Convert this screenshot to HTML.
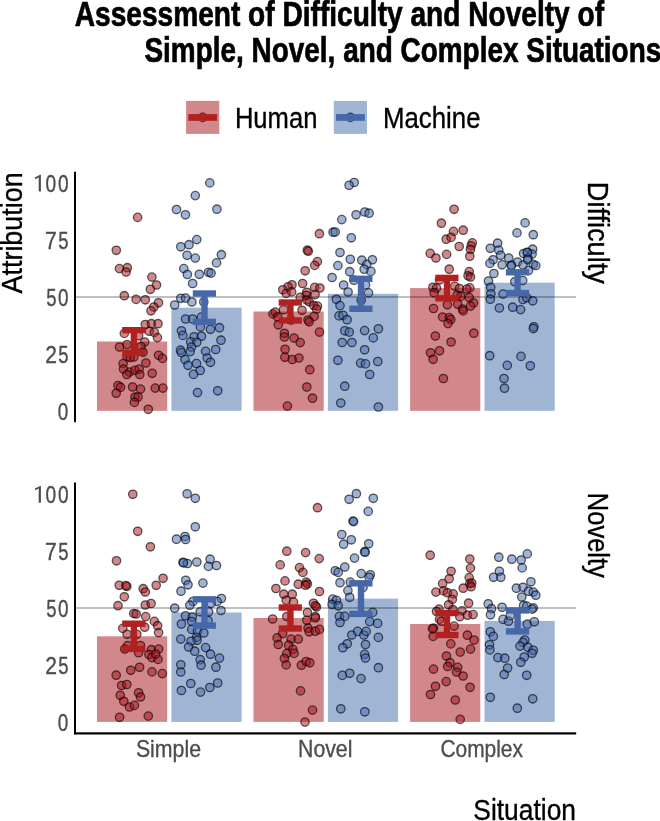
<!DOCTYPE html><html><head><meta charset="utf-8"><style>html,body{margin:0;padding:0;background:#fff;overflow:hidden;}svg{display:block;will-change:transform;}text{font-family:"Liberation Sans",sans-serif;}</style></head><body>
<svg width="660" height="821" viewBox="0 0 660 821">
<rect x="0" y="0" width="660" height="821" fill="#fff"/>
<text id="title1" x="74.73" y="25.50" font-size="34.6" fill="#000" textLength="529.32" lengthAdjust="spacingAndGlyphs" font-weight="bold" stroke="#000" stroke-width="0.7">Assessment of Difficulty and Novelty of</text>
<text id="title2" x="144.44" y="61.50" font-size="34.6" fill="#000" textLength="516.85" lengthAdjust="spacingAndGlyphs" font-weight="bold" stroke="#000" stroke-width="0.7">Simple, Novel, and Complex Situations</text>
<rect x="186.1" y="100.9" width="33.2" height="33" fill="#d2878b"/>
<circle cx="202.7" cy="117.4" r="4.2" fill="none" stroke="rgba(0,0,0,0.62)" stroke-width="1.4"/>
<rect x="188.29999999999998" y="114.1" width="28.8" height="6.7" fill="#b22020"/>
<text id="human" x="234.90" y="128.30" font-size="29.5" fill="#000" textLength="82.51" lengthAdjust="spacingAndGlyphs" stroke="#000" stroke-width="0.35">Human</text>
<rect x="333.8" y="100.9" width="33.2" height="33" fill="#a0b4d4"/>
<circle cx="350.40000000000003" cy="117.4" r="4.2" fill="none" stroke="rgba(0,0,0,0.62)" stroke-width="1.4"/>
<rect x="336.0" y="114.1" width="28.8" height="6.7" fill="#4668a8"/>
<text id="machine" x="383.02" y="128.10" font-size="29.5" fill="#000" textLength="97.47" lengthAdjust="spacingAndGlyphs" stroke="#000" stroke-width="0.35">Machine</text>
<rect x="97.0" y="341.5" width="70.2" height="69.3" fill="#d2878b"/>
<rect x="171.4" y="307.7" width="70.2" height="103.1" fill="#a0b4d4"/>
<rect x="253.5" y="311.5" width="70.2" height="99.3" fill="#d2878b"/>
<rect x="327.9" y="293.8" width="70.2" height="117.0" fill="#a0b4d4"/>
<rect x="410.1" y="288.1" width="70.2" height="122.7" fill="#d2878b"/>
<rect x="484.5" y="282.7" width="70.2" height="128.1" fill="#a0b4d4"/>
<circle cx="137.6" cy="217.4" r="4.2" fill="rgba(165,15,21,0.5)" stroke="rgba(0,0,0,0.62)" stroke-width="1.3"/>
<circle cx="116.3" cy="250.3" r="4.2" fill="rgba(165,15,21,0.5)" stroke="rgba(0,0,0,0.62)" stroke-width="1.3"/>
<circle cx="119.4" cy="268.6" r="4.2" fill="rgba(165,15,21,0.5)" stroke="rgba(0,0,0,0.62)" stroke-width="1.3"/>
<circle cx="127.3" cy="267.7" r="4.2" fill="rgba(165,15,21,0.5)" stroke="rgba(0,0,0,0.62)" stroke-width="1.3"/>
<circle cx="126.1" cy="272" r="4.2" fill="rgba(165,15,21,0.5)" stroke="rgba(0,0,0,0.62)" stroke-width="1.3"/>
<circle cx="151.9" cy="277.1" r="4.2" fill="rgba(165,15,21,0.5)" stroke="rgba(0,0,0,0.62)" stroke-width="1.3"/>
<circle cx="156.5" cy="285" r="4.2" fill="rgba(165,15,21,0.5)" stroke="rgba(0,0,0,0.62)" stroke-width="1.3"/>
<circle cx="150.4" cy="289.3" r="4.2" fill="rgba(165,15,21,0.5)" stroke="rgba(0,0,0,0.62)" stroke-width="1.3"/>
<circle cx="124.3" cy="295.7" r="4.2" fill="rgba(165,15,21,0.5)" stroke="rgba(0,0,0,0.62)" stroke-width="1.3"/>
<circle cx="136.1" cy="299.4" r="4.2" fill="rgba(165,15,21,0.5)" stroke="rgba(0,0,0,0.62)" stroke-width="1.3"/>
<circle cx="145.3" cy="299.8" r="4.2" fill="rgba(165,15,21,0.5)" stroke="rgba(0,0,0,0.62)" stroke-width="1.3"/>
<circle cx="158.5" cy="302.8" r="4.2" fill="rgba(165,15,21,0.5)" stroke="rgba(0,0,0,0.62)" stroke-width="1.3"/>
<circle cx="153.8" cy="307" r="4.2" fill="rgba(165,15,21,0.5)" stroke="rgba(0,0,0,0.62)" stroke-width="1.3"/>
<circle cx="151" cy="310.8" r="4.2" fill="rgba(165,15,21,0.5)" stroke="rgba(0,0,0,0.62)" stroke-width="1.3"/>
<circle cx="145.3" cy="324.5" r="4.2" fill="rgba(165,15,21,0.5)" stroke="rgba(0,0,0,0.62)" stroke-width="1.3"/>
<circle cx="151.4" cy="323.7" r="4.2" fill="rgba(165,15,21,0.5)" stroke="rgba(0,0,0,0.62)" stroke-width="1.3"/>
<circle cx="158" cy="323.7" r="4.2" fill="rgba(165,15,21,0.5)" stroke="rgba(0,0,0,0.62)" stroke-width="1.3"/>
<circle cx="149.3" cy="331.2" r="4.2" fill="rgba(165,15,21,0.5)" stroke="rgba(0,0,0,0.62)" stroke-width="1.3"/>
<circle cx="154.4" cy="332.4" r="4.2" fill="rgba(165,15,21,0.5)" stroke="rgba(0,0,0,0.62)" stroke-width="1.3"/>
<circle cx="157.4" cy="337.6" r="4.2" fill="rgba(165,15,21,0.5)" stroke="rgba(0,0,0,0.62)" stroke-width="1.3"/>
<circle cx="124.3" cy="333.4" r="4.2" fill="rgba(165,15,21,0.5)" stroke="rgba(0,0,0,0.62)" stroke-width="1.3"/>
<circle cx="138.6" cy="335.8" r="4.2" fill="rgba(165,15,21,0.5)" stroke="rgba(0,0,0,0.62)" stroke-width="1.3"/>
<circle cx="144.7" cy="342" r="4.2" fill="rgba(165,15,21,0.5)" stroke="rgba(0,0,0,0.62)" stroke-width="1.3"/>
<circle cx="119.5" cy="347" r="4.2" fill="rgba(165,15,21,0.5)" stroke="rgba(0,0,0,0.62)" stroke-width="1.3"/>
<circle cx="127.1" cy="344.6" r="4.2" fill="rgba(165,15,21,0.5)" stroke="rgba(0,0,0,0.62)" stroke-width="1.3"/>
<circle cx="141" cy="346.5" r="4.2" fill="rgba(165,15,21,0.5)" stroke="rgba(0,0,0,0.62)" stroke-width="1.3"/>
<circle cx="143" cy="352.2" r="4.2" fill="rgba(165,15,21,0.5)" stroke="rgba(0,0,0,0.62)" stroke-width="1.3"/>
<circle cx="158.6" cy="355.3" r="4.2" fill="rgba(165,15,21,0.5)" stroke="rgba(0,0,0,0.62)" stroke-width="1.3"/>
<circle cx="162.5" cy="358.4" r="4.2" fill="rgba(165,15,21,0.5)" stroke="rgba(0,0,0,0.62)" stroke-width="1.3"/>
<circle cx="127.1" cy="357" r="4.2" fill="rgba(165,15,21,0.5)" stroke="rgba(0,0,0,0.62)" stroke-width="1.3"/>
<circle cx="133.8" cy="357" r="4.2" fill="rgba(165,15,21,0.5)" stroke="rgba(0,0,0,0.62)" stroke-width="1.3"/>
<circle cx="130.2" cy="357.6" r="4.2" fill="rgba(165,15,21,0.5)" stroke="rgba(0,0,0,0.62)" stroke-width="1.3"/>
<circle cx="123.1" cy="363.6" r="4.2" fill="rgba(165,15,21,0.5)" stroke="rgba(0,0,0,0.62)" stroke-width="1.3"/>
<circle cx="145.9" cy="363" r="4.2" fill="rgba(165,15,21,0.5)" stroke="rgba(0,0,0,0.62)" stroke-width="1.3"/>
<circle cx="123.5" cy="369.1" r="4.2" fill="rgba(165,15,21,0.5)" stroke="rgba(0,0,0,0.62)" stroke-width="1.3"/>
<circle cx="129.5" cy="372.1" r="4.2" fill="rgba(165,15,21,0.5)" stroke="rgba(0,0,0,0.62)" stroke-width="1.3"/>
<circle cx="135" cy="370.3" r="4.2" fill="rgba(165,15,21,0.5)" stroke="rgba(0,0,0,0.62)" stroke-width="1.3"/>
<circle cx="139.2" cy="369.1" r="4.2" fill="rgba(165,15,21,0.5)" stroke="rgba(0,0,0,0.62)" stroke-width="1.3"/>
<circle cx="139.8" cy="374.5" r="4.2" fill="rgba(165,15,21,0.5)" stroke="rgba(0,0,0,0.62)" stroke-width="1.3"/>
<circle cx="126.8" cy="374.5" r="4.2" fill="rgba(165,15,21,0.5)" stroke="rgba(0,0,0,0.62)" stroke-width="1.3"/>
<circle cx="152.2" cy="373.3" r="4.2" fill="rgba(165,15,21,0.5)" stroke="rgba(0,0,0,0.62)" stroke-width="1.3"/>
<circle cx="118" cy="385.5" r="4.2" fill="rgba(165,15,21,0.5)" stroke="rgba(0,0,0,0.62)" stroke-width="1.3"/>
<circle cx="120.5" cy="387.3" r="4.2" fill="rgba(165,15,21,0.5)" stroke="rgba(0,0,0,0.62)" stroke-width="1.3"/>
<circle cx="116.2" cy="393.3" r="4.2" fill="rgba(165,15,21,0.5)" stroke="rgba(0,0,0,0.62)" stroke-width="1.3"/>
<circle cx="132.6" cy="387" r="4.2" fill="rgba(165,15,21,0.5)" stroke="rgba(0,0,0,0.62)" stroke-width="1.3"/>
<circle cx="140.5" cy="389.1" r="4.2" fill="rgba(165,15,21,0.5)" stroke="rgba(0,0,0,0.62)" stroke-width="1.3"/>
<circle cx="155.2" cy="388.1" r="4.2" fill="rgba(165,15,21,0.5)" stroke="rgba(0,0,0,0.62)" stroke-width="1.3"/>
<circle cx="162.9" cy="388.1" r="4.2" fill="rgba(165,15,21,0.5)" stroke="rgba(0,0,0,0.62)" stroke-width="1.3"/>
<circle cx="135" cy="397" r="4.2" fill="rgba(165,15,21,0.5)" stroke="rgba(0,0,0,0.62)" stroke-width="1.3"/>
<circle cx="138" cy="397" r="4.2" fill="rgba(165,15,21,0.5)" stroke="rgba(0,0,0,0.62)" stroke-width="1.3"/>
<circle cx="134.4" cy="402.4" r="4.2" fill="rgba(165,15,21,0.5)" stroke="rgba(0,0,0,0.62)" stroke-width="1.3"/>
<circle cx="148.3" cy="409.3" r="4.2" fill="rgba(165,15,21,0.5)" stroke="rgba(0,0,0,0.62)" stroke-width="1.3"/>
<circle cx="209.8" cy="182.9" r="4.2" fill="rgba(65,105,176,0.5)" stroke="rgba(0,0,0,0.62)" stroke-width="1.3"/>
<circle cx="195.3" cy="195.6" r="4.2" fill="rgba(65,105,176,0.5)" stroke="rgba(0,0,0,0.62)" stroke-width="1.3"/>
<circle cx="176.5" cy="209.5" r="4.2" fill="rgba(65,105,176,0.5)" stroke="rgba(0,0,0,0.62)" stroke-width="1.3"/>
<circle cx="185.4" cy="214.8" r="4.2" fill="rgba(65,105,176,0.5)" stroke="rgba(0,0,0,0.62)" stroke-width="1.3"/>
<circle cx="216.9" cy="209.2" r="4.2" fill="rgba(65,105,176,0.5)" stroke="rgba(0,0,0,0.62)" stroke-width="1.3"/>
<circle cx="196.8" cy="239.6" r="4.2" fill="rgba(65,105,176,0.5)" stroke="rgba(0,0,0,0.62)" stroke-width="1.3"/>
<circle cx="189" cy="244.7" r="4.2" fill="rgba(65,105,176,0.5)" stroke="rgba(0,0,0,0.62)" stroke-width="1.3"/>
<circle cx="180.8" cy="246.8" r="4.2" fill="rgba(65,105,176,0.5)" stroke="rgba(0,0,0,0.62)" stroke-width="1.3"/>
<circle cx="187.1" cy="255.3" r="4.2" fill="rgba(65,105,176,0.5)" stroke="rgba(0,0,0,0.62)" stroke-width="1.3"/>
<circle cx="195.3" cy="258.1" r="4.2" fill="rgba(65,105,176,0.5)" stroke="rgba(0,0,0,0.62)" stroke-width="1.3"/>
<circle cx="221.4" cy="254.7" r="4.2" fill="rgba(65,105,176,0.5)" stroke="rgba(0,0,0,0.62)" stroke-width="1.3"/>
<circle cx="216.5" cy="262.9" r="4.2" fill="rgba(65,105,176,0.5)" stroke="rgba(0,0,0,0.62)" stroke-width="1.3"/>
<circle cx="183.8" cy="268.6" r="4.2" fill="rgba(65,105,176,0.5)" stroke="rgba(0,0,0,0.62)" stroke-width="1.3"/>
<circle cx="187.4" cy="274.5" r="4.2" fill="rgba(65,105,176,0.5)" stroke="rgba(0,0,0,0.62)" stroke-width="1.3"/>
<circle cx="199.3" cy="274.3" r="4.2" fill="rgba(65,105,176,0.5)" stroke="rgba(0,0,0,0.62)" stroke-width="1.3"/>
<circle cx="208.6" cy="272.3" r="4.2" fill="rgba(65,105,176,0.5)" stroke="rgba(0,0,0,0.62)" stroke-width="1.3"/>
<circle cx="211.1" cy="273.1" r="4.2" fill="rgba(65,105,176,0.5)" stroke="rgba(0,0,0,0.62)" stroke-width="1.3"/>
<circle cx="192.6" cy="283.5" r="4.2" fill="rgba(65,105,176,0.5)" stroke="rgba(0,0,0,0.62)" stroke-width="1.3"/>
<circle cx="180.8" cy="298.3" r="4.2" fill="rgba(65,105,176,0.5)" stroke="rgba(0,0,0,0.62)" stroke-width="1.3"/>
<circle cx="185.6" cy="298.1" r="4.2" fill="rgba(65,105,176,0.5)" stroke="rgba(0,0,0,0.62)" stroke-width="1.3"/>
<circle cx="191.9" cy="302" r="4.2" fill="rgba(65,105,176,0.5)" stroke="rgba(0,0,0,0.62)" stroke-width="1.3"/>
<circle cx="174.7" cy="305" r="4.2" fill="rgba(65,105,176,0.5)" stroke="rgba(0,0,0,0.62)" stroke-width="1.3"/>
<circle cx="203.8" cy="302" r="4.2" fill="rgba(65,105,176,0.5)" stroke="rgba(0,0,0,0.62)" stroke-width="1.3"/>
<circle cx="185.6" cy="319" r="4.2" fill="rgba(65,105,176,0.5)" stroke="rgba(0,0,0,0.62)" stroke-width="1.3"/>
<circle cx="192.6" cy="319" r="4.2" fill="rgba(65,105,176,0.5)" stroke="rgba(0,0,0,0.62)" stroke-width="1.3"/>
<circle cx="201.4" cy="317.1" r="4.2" fill="rgba(65,105,176,0.5)" stroke="rgba(0,0,0,0.62)" stroke-width="1.3"/>
<circle cx="200.4" cy="326.9" r="4.2" fill="rgba(65,105,176,0.5)" stroke="rgba(0,0,0,0.62)" stroke-width="1.3"/>
<circle cx="210.5" cy="329.3" r="4.2" fill="rgba(65,105,176,0.5)" stroke="rgba(0,0,0,0.62)" stroke-width="1.3"/>
<circle cx="219.5" cy="327.7" r="4.2" fill="rgba(65,105,176,0.5)" stroke="rgba(0,0,0,0.62)" stroke-width="1.3"/>
<circle cx="181.4" cy="330.8" r="4.2" fill="rgba(65,105,176,0.5)" stroke="rgba(0,0,0,0.62)" stroke-width="1.3"/>
<circle cx="182.9" cy="335.4" r="4.2" fill="rgba(65,105,176,0.5)" stroke="rgba(0,0,0,0.62)" stroke-width="1.3"/>
<circle cx="194.1" cy="336.8" r="4.2" fill="rgba(65,105,176,0.5)" stroke="rgba(0,0,0,0.62)" stroke-width="1.3"/>
<circle cx="201.4" cy="336.2" r="4.2" fill="rgba(65,105,176,0.5)" stroke="rgba(0,0,0,0.62)" stroke-width="1.3"/>
<circle cx="190.7" cy="341.9" r="4.2" fill="rgba(65,105,176,0.5)" stroke="rgba(0,0,0,0.62)" stroke-width="1.3"/>
<circle cx="196.8" cy="342.3" r="4.2" fill="rgba(65,105,176,0.5)" stroke="rgba(0,0,0,0.62)" stroke-width="1.3"/>
<circle cx="221" cy="340.2" r="4.2" fill="rgba(65,105,176,0.5)" stroke="rgba(0,0,0,0.62)" stroke-width="1.3"/>
<circle cx="191.4" cy="347.1" r="4.2" fill="rgba(65,105,176,0.5)" stroke="rgba(0,0,0,0.62)" stroke-width="1.3"/>
<circle cx="180.5" cy="350.2" r="4.2" fill="rgba(65,105,176,0.5)" stroke="rgba(0,0,0,0.62)" stroke-width="1.3"/>
<circle cx="181.4" cy="352.6" r="4.2" fill="rgba(65,105,176,0.5)" stroke="rgba(0,0,0,0.62)" stroke-width="1.3"/>
<circle cx="190.2" cy="351.6" r="4.2" fill="rgba(65,105,176,0.5)" stroke="rgba(0,0,0,0.62)" stroke-width="1.3"/>
<circle cx="205.6" cy="351.4" r="4.2" fill="rgba(65,105,176,0.5)" stroke="rgba(0,0,0,0.62)" stroke-width="1.3"/>
<circle cx="215.7" cy="349.5" r="4.2" fill="rgba(65,105,176,0.5)" stroke="rgba(0,0,0,0.62)" stroke-width="1.3"/>
<circle cx="207.2" cy="358" r="4.2" fill="rgba(65,105,176,0.5)" stroke="rgba(0,0,0,0.62)" stroke-width="1.3"/>
<circle cx="210.5" cy="362.3" r="4.2" fill="rgba(65,105,176,0.5)" stroke="rgba(0,0,0,0.62)" stroke-width="1.3"/>
<circle cx="185" cy="359.6" r="4.2" fill="rgba(65,105,176,0.5)" stroke="rgba(0,0,0,0.62)" stroke-width="1.3"/>
<circle cx="188" cy="365.3" r="4.2" fill="rgba(65,105,176,0.5)" stroke="rgba(0,0,0,0.62)" stroke-width="1.3"/>
<circle cx="196.5" cy="363.5" r="4.2" fill="rgba(65,105,176,0.5)" stroke="rgba(0,0,0,0.62)" stroke-width="1.3"/>
<circle cx="200.2" cy="370.5" r="4.2" fill="rgba(65,105,176,0.5)" stroke="rgba(0,0,0,0.62)" stroke-width="1.3"/>
<circle cx="193.5" cy="374.4" r="4.2" fill="rgba(65,105,176,0.5)" stroke="rgba(0,0,0,0.62)" stroke-width="1.3"/>
<circle cx="197.5" cy="392.6" r="4.2" fill="rgba(65,105,176,0.5)" stroke="rgba(0,0,0,0.62)" stroke-width="1.3"/>
<circle cx="217.7" cy="390.8" r="4.2" fill="rgba(65,105,176,0.5)" stroke="rgba(0,0,0,0.62)" stroke-width="1.3"/>
<circle cx="319.4" cy="233.7" r="4.2" fill="rgba(165,15,21,0.5)" stroke="rgba(0,0,0,0.62)" stroke-width="1.3"/>
<circle cx="307.3" cy="250.2" r="4.2" fill="rgba(165,15,21,0.5)" stroke="rgba(0,0,0,0.62)" stroke-width="1.3"/>
<circle cx="308.3" cy="251.2" r="4.2" fill="rgba(165,15,21,0.5)" stroke="rgba(0,0,0,0.62)" stroke-width="1.3"/>
<circle cx="317.4" cy="261.6" r="4.2" fill="rgba(165,15,21,0.5)" stroke="rgba(0,0,0,0.62)" stroke-width="1.3"/>
<circle cx="314.7" cy="265.4" r="4.2" fill="rgba(165,15,21,0.5)" stroke="rgba(0,0,0,0.62)" stroke-width="1.3"/>
<circle cx="305.2" cy="270.8" r="4.2" fill="rgba(165,15,21,0.5)" stroke="rgba(0,0,0,0.62)" stroke-width="1.3"/>
<circle cx="302.6" cy="283.5" r="4.2" fill="rgba(165,15,21,0.5)" stroke="rgba(0,0,0,0.62)" stroke-width="1.3"/>
<circle cx="292" cy="284.8" r="4.2" fill="rgba(165,15,21,0.5)" stroke="rgba(0,0,0,0.62)" stroke-width="1.3"/>
<circle cx="288" cy="286.8" r="4.2" fill="rgba(165,15,21,0.5)" stroke="rgba(0,0,0,0.62)" stroke-width="1.3"/>
<circle cx="282.8" cy="289.8" r="4.2" fill="rgba(165,15,21,0.5)" stroke="rgba(0,0,0,0.62)" stroke-width="1.3"/>
<circle cx="286.2" cy="293.4" r="4.2" fill="rgba(165,15,21,0.5)" stroke="rgba(0,0,0,0.62)" stroke-width="1.3"/>
<circle cx="291.7" cy="291.9" r="4.2" fill="rgba(165,15,21,0.5)" stroke="rgba(0,0,0,0.62)" stroke-width="1.3"/>
<circle cx="314.7" cy="287.4" r="4.2" fill="rgba(165,15,21,0.5)" stroke="rgba(0,0,0,0.62)" stroke-width="1.3"/>
<circle cx="319.9" cy="288" r="4.2" fill="rgba(165,15,21,0.5)" stroke="rgba(0,0,0,0.62)" stroke-width="1.3"/>
<circle cx="306.8" cy="292.3" r="4.2" fill="rgba(165,15,21,0.5)" stroke="rgba(0,0,0,0.62)" stroke-width="1.3"/>
<circle cx="306.2" cy="295.3" r="4.2" fill="rgba(165,15,21,0.5)" stroke="rgba(0,0,0,0.62)" stroke-width="1.3"/>
<circle cx="315.1" cy="294.6" r="4.2" fill="rgba(165,15,21,0.5)" stroke="rgba(0,0,0,0.62)" stroke-width="1.3"/>
<circle cx="300.2" cy="297.4" r="4.2" fill="rgba(165,15,21,0.5)" stroke="rgba(0,0,0,0.62)" stroke-width="1.3"/>
<circle cx="306.8" cy="300" r="4.2" fill="rgba(165,15,21,0.5)" stroke="rgba(0,0,0,0.62)" stroke-width="1.3"/>
<circle cx="309.2" cy="301.8" r="4.2" fill="rgba(165,15,21,0.5)" stroke="rgba(0,0,0,0.62)" stroke-width="1.3"/>
<circle cx="313.8" cy="305.5" r="4.2" fill="rgba(165,15,21,0.5)" stroke="rgba(0,0,0,0.62)" stroke-width="1.3"/>
<circle cx="317.5" cy="306.1" r="4.2" fill="rgba(165,15,21,0.5)" stroke="rgba(0,0,0,0.62)" stroke-width="1.3"/>
<circle cx="316.5" cy="309.1" r="4.2" fill="rgba(165,15,21,0.5)" stroke="rgba(0,0,0,0.62)" stroke-width="1.3"/>
<circle cx="302" cy="310.3" r="4.2" fill="rgba(165,15,21,0.5)" stroke="rgba(0,0,0,0.62)" stroke-width="1.3"/>
<circle cx="283.5" cy="309.7" r="4.2" fill="rgba(165,15,21,0.5)" stroke="rgba(0,0,0,0.62)" stroke-width="1.3"/>
<circle cx="272.9" cy="313.9" r="4.2" fill="rgba(165,15,21,0.5)" stroke="rgba(0,0,0,0.62)" stroke-width="1.3"/>
<circle cx="275.3" cy="312.1" r="4.2" fill="rgba(165,15,21,0.5)" stroke="rgba(0,0,0,0.62)" stroke-width="1.3"/>
<circle cx="277.7" cy="317" r="4.2" fill="rgba(165,15,21,0.5)" stroke="rgba(0,0,0,0.62)" stroke-width="1.3"/>
<circle cx="278.3" cy="324.8" r="4.2" fill="rgba(165,15,21,0.5)" stroke="rgba(0,0,0,0.62)" stroke-width="1.3"/>
<circle cx="291" cy="320" r="4.2" fill="rgba(165,15,21,0.5)" stroke="rgba(0,0,0,0.62)" stroke-width="1.3"/>
<circle cx="308" cy="320" r="4.2" fill="rgba(165,15,21,0.5)" stroke="rgba(0,0,0,0.62)" stroke-width="1.3"/>
<circle cx="314.1" cy="316.4" r="4.2" fill="rgba(165,15,21,0.5)" stroke="rgba(0,0,0,0.62)" stroke-width="1.3"/>
<circle cx="309.2" cy="321.8" r="4.2" fill="rgba(165,15,21,0.5)" stroke="rgba(0,0,0,0.62)" stroke-width="1.3"/>
<circle cx="319.5" cy="332.1" r="4.2" fill="rgba(165,15,21,0.5)" stroke="rgba(0,0,0,0.62)" stroke-width="1.3"/>
<circle cx="284.4" cy="333.3" r="4.2" fill="rgba(165,15,21,0.5)" stroke="rgba(0,0,0,0.62)" stroke-width="1.3"/>
<circle cx="284.4" cy="337" r="4.2" fill="rgba(165,15,21,0.5)" stroke="rgba(0,0,0,0.62)" stroke-width="1.3"/>
<circle cx="294.1" cy="338" r="4.2" fill="rgba(165,15,21,0.5)" stroke="rgba(0,0,0,0.62)" stroke-width="1.3"/>
<circle cx="300.2" cy="342.6" r="4.2" fill="rgba(165,15,21,0.5)" stroke="rgba(0,0,0,0.62)" stroke-width="1.3"/>
<circle cx="285.1" cy="349.3" r="4.2" fill="rgba(165,15,21,0.5)" stroke="rgba(0,0,0,0.62)" stroke-width="1.3"/>
<circle cx="284.9" cy="357.3" r="4.2" fill="rgba(165,15,21,0.5)" stroke="rgba(0,0,0,0.62)" stroke-width="1.3"/>
<circle cx="292.3" cy="359.5" r="4.2" fill="rgba(165,15,21,0.5)" stroke="rgba(0,0,0,0.62)" stroke-width="1.3"/>
<circle cx="298.9" cy="358" r="4.2" fill="rgba(165,15,21,0.5)" stroke="rgba(0,0,0,0.62)" stroke-width="1.3"/>
<circle cx="309.8" cy="369.7" r="4.2" fill="rgba(165,15,21,0.5)" stroke="rgba(0,0,0,0.62)" stroke-width="1.3"/>
<circle cx="306.8" cy="387" r="4.2" fill="rgba(165,15,21,0.5)" stroke="rgba(0,0,0,0.62)" stroke-width="1.3"/>
<circle cx="312.5" cy="398.2" r="4.2" fill="rgba(165,15,21,0.5)" stroke="rgba(0,0,0,0.62)" stroke-width="1.3"/>
<circle cx="287.4" cy="406.1" r="4.2" fill="rgba(165,15,21,0.5)" stroke="rgba(0,0,0,0.62)" stroke-width="1.3"/>
<circle cx="354.2" cy="182.5" r="4.2" fill="rgba(65,105,176,0.5)" stroke="rgba(0,0,0,0.62)" stroke-width="1.3"/>
<circle cx="349.1" cy="185.3" r="4.2" fill="rgba(65,105,176,0.5)" stroke="rgba(0,0,0,0.62)" stroke-width="1.3"/>
<circle cx="364.8" cy="212" r="4.2" fill="rgba(65,105,176,0.5)" stroke="rgba(0,0,0,0.62)" stroke-width="1.3"/>
<circle cx="369.1" cy="213.2" r="4.2" fill="rgba(65,105,176,0.5)" stroke="rgba(0,0,0,0.62)" stroke-width="1.3"/>
<circle cx="356.1" cy="214.8" r="4.2" fill="rgba(65,105,176,0.5)" stroke="rgba(0,0,0,0.62)" stroke-width="1.3"/>
<circle cx="341.8" cy="219.6" r="4.2" fill="rgba(65,105,176,0.5)" stroke="rgba(0,0,0,0.62)" stroke-width="1.3"/>
<circle cx="333.1" cy="232.2" r="4.2" fill="rgba(65,105,176,0.5)" stroke="rgba(0,0,0,0.62)" stroke-width="1.3"/>
<circle cx="335.2" cy="232" r="4.2" fill="rgba(65,105,176,0.5)" stroke="rgba(0,0,0,0.62)" stroke-width="1.3"/>
<circle cx="351.3" cy="237.8" r="4.2" fill="rgba(65,105,176,0.5)" stroke="rgba(0,0,0,0.62)" stroke-width="1.3"/>
<circle cx="340" cy="252.5" r="4.2" fill="rgba(65,105,176,0.5)" stroke="rgba(0,0,0,0.62)" stroke-width="1.3"/>
<circle cx="350.3" cy="259.3" r="4.2" fill="rgba(65,105,176,0.5)" stroke="rgba(0,0,0,0.62)" stroke-width="1.3"/>
<circle cx="361.8" cy="260.2" r="4.2" fill="rgba(65,105,176,0.5)" stroke="rgba(0,0,0,0.62)" stroke-width="1.3"/>
<circle cx="372.4" cy="259.8" r="4.2" fill="rgba(65,105,176,0.5)" stroke="rgba(0,0,0,0.62)" stroke-width="1.3"/>
<circle cx="337.9" cy="265.6" r="4.2" fill="rgba(65,105,176,0.5)" stroke="rgba(0,0,0,0.62)" stroke-width="1.3"/>
<circle cx="366.7" cy="264.4" r="4.2" fill="rgba(65,105,176,0.5)" stroke="rgba(0,0,0,0.62)" stroke-width="1.3"/>
<circle cx="364.2" cy="269.2" r="4.2" fill="rgba(65,105,176,0.5)" stroke="rgba(0,0,0,0.62)" stroke-width="1.3"/>
<circle cx="370.9" cy="271.4" r="4.2" fill="rgba(65,105,176,0.5)" stroke="rgba(0,0,0,0.62)" stroke-width="1.3"/>
<circle cx="349.7" cy="271.7" r="4.2" fill="rgba(65,105,176,0.5)" stroke="rgba(0,0,0,0.62)" stroke-width="1.3"/>
<circle cx="332.1" cy="277.5" r="4.2" fill="rgba(65,105,176,0.5)" stroke="rgba(0,0,0,0.62)" stroke-width="1.3"/>
<circle cx="353.9" cy="280.2" r="4.2" fill="rgba(65,105,176,0.5)" stroke="rgba(0,0,0,0.62)" stroke-width="1.3"/>
<circle cx="343.6" cy="285" r="4.2" fill="rgba(65,105,176,0.5)" stroke="rgba(0,0,0,0.62)" stroke-width="1.3"/>
<circle cx="365.5" cy="285" r="4.2" fill="rgba(65,105,176,0.5)" stroke="rgba(0,0,0,0.62)" stroke-width="1.3"/>
<circle cx="348.1" cy="292" r="4.2" fill="rgba(65,105,176,0.5)" stroke="rgba(0,0,0,0.62)" stroke-width="1.3"/>
<circle cx="368.5" cy="292.9" r="4.2" fill="rgba(65,105,176,0.5)" stroke="rgba(0,0,0,0.62)" stroke-width="1.3"/>
<circle cx="336.4" cy="299.3" r="4.2" fill="rgba(65,105,176,0.5)" stroke="rgba(0,0,0,0.62)" stroke-width="1.3"/>
<circle cx="361.2" cy="300.2" r="4.2" fill="rgba(65,105,176,0.5)" stroke="rgba(0,0,0,0.62)" stroke-width="1.3"/>
<circle cx="340" cy="305.6" r="4.2" fill="rgba(65,105,176,0.5)" stroke="rgba(0,0,0,0.62)" stroke-width="1.3"/>
<circle cx="339" cy="315.9" r="4.2" fill="rgba(65,105,176,0.5)" stroke="rgba(0,0,0,0.62)" stroke-width="1.3"/>
<circle cx="343" cy="315.3" r="4.2" fill="rgba(65,105,176,0.5)" stroke="rgba(0,0,0,0.62)" stroke-width="1.3"/>
<circle cx="347.1" cy="319.7" r="4.2" fill="rgba(65,105,176,0.5)" stroke="rgba(0,0,0,0.62)" stroke-width="1.3"/>
<circle cx="344.8" cy="330.8" r="4.2" fill="rgba(65,105,176,0.5)" stroke="rgba(0,0,0,0.62)" stroke-width="1.3"/>
<circle cx="349.3" cy="332.1" r="4.2" fill="rgba(65,105,176,0.5)" stroke="rgba(0,0,0,0.62)" stroke-width="1.3"/>
<circle cx="364.6" cy="330.6" r="4.2" fill="rgba(65,105,176,0.5)" stroke="rgba(0,0,0,0.62)" stroke-width="1.3"/>
<circle cx="378.4" cy="328.8" r="4.2" fill="rgba(65,105,176,0.5)" stroke="rgba(0,0,0,0.62)" stroke-width="1.3"/>
<circle cx="373.3" cy="337.9" r="4.2" fill="rgba(65,105,176,0.5)" stroke="rgba(0,0,0,0.62)" stroke-width="1.3"/>
<circle cx="342.2" cy="342.5" r="4.2" fill="rgba(65,105,176,0.5)" stroke="rgba(0,0,0,0.62)" stroke-width="1.3"/>
<circle cx="351.9" cy="342.5" r="4.2" fill="rgba(65,105,176,0.5)" stroke="rgba(0,0,0,0.62)" stroke-width="1.3"/>
<circle cx="364.6" cy="349.8" r="4.2" fill="rgba(65,105,176,0.5)" stroke="rgba(0,0,0,0.62)" stroke-width="1.3"/>
<circle cx="337.9" cy="360.3" r="4.2" fill="rgba(65,105,176,0.5)" stroke="rgba(0,0,0,0.62)" stroke-width="1.3"/>
<circle cx="360.6" cy="363.1" r="4.2" fill="rgba(65,105,176,0.5)" stroke="rgba(0,0,0,0.62)" stroke-width="1.3"/>
<circle cx="365.5" cy="363.9" r="4.2" fill="rgba(65,105,176,0.5)" stroke="rgba(0,0,0,0.62)" stroke-width="1.3"/>
<circle cx="377.8" cy="361.5" r="4.2" fill="rgba(65,105,176,0.5)" stroke="rgba(0,0,0,0.62)" stroke-width="1.3"/>
<circle cx="369.7" cy="374.5" r="4.2" fill="rgba(65,105,176,0.5)" stroke="rgba(0,0,0,0.62)" stroke-width="1.3"/>
<circle cx="344.8" cy="386.2" r="4.2" fill="rgba(65,105,176,0.5)" stroke="rgba(0,0,0,0.62)" stroke-width="1.3"/>
<circle cx="340.8" cy="403" r="4.2" fill="rgba(65,105,176,0.5)" stroke="rgba(0,0,0,0.62)" stroke-width="1.3"/>
<circle cx="378.4" cy="407" r="4.2" fill="rgba(65,105,176,0.5)" stroke="rgba(0,0,0,0.62)" stroke-width="1.3"/>
<circle cx="454.1" cy="209.3" r="4.2" fill="rgba(165,15,21,0.5)" stroke="rgba(0,0,0,0.62)" stroke-width="1.3"/>
<circle cx="441.4" cy="223.2" r="4.2" fill="rgba(165,15,21,0.5)" stroke="rgba(0,0,0,0.62)" stroke-width="1.3"/>
<circle cx="453.5" cy="231.4" r="4.2" fill="rgba(165,15,21,0.5)" stroke="rgba(0,0,0,0.62)" stroke-width="1.3"/>
<circle cx="463.2" cy="230.2" r="4.2" fill="rgba(165,15,21,0.5)" stroke="rgba(0,0,0,0.62)" stroke-width="1.3"/>
<circle cx="446.2" cy="239.2" r="4.2" fill="rgba(165,15,21,0.5)" stroke="rgba(0,0,0,0.62)" stroke-width="1.3"/>
<circle cx="451.1" cy="237.4" r="4.2" fill="rgba(165,15,21,0.5)" stroke="rgba(0,0,0,0.62)" stroke-width="1.3"/>
<circle cx="459.2" cy="246.5" r="4.2" fill="rgba(165,15,21,0.5)" stroke="rgba(0,0,0,0.62)" stroke-width="1.3"/>
<circle cx="472.3" cy="242.9" r="4.2" fill="rgba(165,15,21,0.5)" stroke="rgba(0,0,0,0.62)" stroke-width="1.3"/>
<circle cx="471.1" cy="245.9" r="4.2" fill="rgba(165,15,21,0.5)" stroke="rgba(0,0,0,0.62)" stroke-width="1.3"/>
<circle cx="470.5" cy="249.5" r="4.2" fill="rgba(165,15,21,0.5)" stroke="rgba(0,0,0,0.62)" stroke-width="1.3"/>
<circle cx="469.8" cy="256.2" r="4.2" fill="rgba(165,15,21,0.5)" stroke="rgba(0,0,0,0.62)" stroke-width="1.3"/>
<circle cx="430.2" cy="253.4" r="4.2" fill="rgba(165,15,21,0.5)" stroke="rgba(0,0,0,0.62)" stroke-width="1.3"/>
<circle cx="435.9" cy="258" r="4.2" fill="rgba(165,15,21,0.5)" stroke="rgba(0,0,0,0.62)" stroke-width="1.3"/>
<circle cx="446.6" cy="254.4" r="4.2" fill="rgba(165,15,21,0.5)" stroke="rgba(0,0,0,0.62)" stroke-width="1.3"/>
<circle cx="449.2" cy="269.2" r="4.2" fill="rgba(165,15,21,0.5)" stroke="rgba(0,0,0,0.62)" stroke-width="1.3"/>
<circle cx="469.2" cy="271.6" r="4.2" fill="rgba(165,15,21,0.5)" stroke="rgba(0,0,0,0.62)" stroke-width="1.3"/>
<circle cx="468" cy="275.8" r="4.2" fill="rgba(165,15,21,0.5)" stroke="rgba(0,0,0,0.62)" stroke-width="1.3"/>
<circle cx="470.5" cy="277" r="4.2" fill="rgba(165,15,21,0.5)" stroke="rgba(0,0,0,0.62)" stroke-width="1.3"/>
<circle cx="439.5" cy="280" r="4.2" fill="rgba(165,15,21,0.5)" stroke="rgba(0,0,0,0.62)" stroke-width="1.3"/>
<circle cx="432.9" cy="287.3" r="4.2" fill="rgba(165,15,21,0.5)" stroke="rgba(0,0,0,0.62)" stroke-width="1.3"/>
<circle cx="436.5" cy="288.1" r="4.2" fill="rgba(165,15,21,0.5)" stroke="rgba(0,0,0,0.62)" stroke-width="1.3"/>
<circle cx="434.1" cy="292.7" r="4.2" fill="rgba(165,15,21,0.5)" stroke="rgba(0,0,0,0.62)" stroke-width="1.3"/>
<circle cx="454.7" cy="286.1" r="4.2" fill="rgba(165,15,21,0.5)" stroke="rgba(0,0,0,0.62)" stroke-width="1.3"/>
<circle cx="459.5" cy="288.5" r="4.2" fill="rgba(165,15,21,0.5)" stroke="rgba(0,0,0,0.62)" stroke-width="1.3"/>
<circle cx="469.8" cy="287.9" r="4.2" fill="rgba(165,15,21,0.5)" stroke="rgba(0,0,0,0.62)" stroke-width="1.3"/>
<circle cx="466.8" cy="289.1" r="4.2" fill="rgba(165,15,21,0.5)" stroke="rgba(0,0,0,0.62)" stroke-width="1.3"/>
<circle cx="457.1" cy="295.2" r="4.2" fill="rgba(165,15,21,0.5)" stroke="rgba(0,0,0,0.62)" stroke-width="1.3"/>
<circle cx="460.8" cy="296.4" r="4.2" fill="rgba(165,15,21,0.5)" stroke="rgba(0,0,0,0.62)" stroke-width="1.3"/>
<circle cx="469.2" cy="297.6" r="4.2" fill="rgba(165,15,21,0.5)" stroke="rgba(0,0,0,0.62)" stroke-width="1.3"/>
<circle cx="473.5" cy="303" r="4.2" fill="rgba(165,15,21,0.5)" stroke="rgba(0,0,0,0.62)" stroke-width="1.3"/>
<circle cx="470.5" cy="306.1" r="4.2" fill="rgba(165,15,21,0.5)" stroke="rgba(0,0,0,0.62)" stroke-width="1.3"/>
<circle cx="457.7" cy="304.2" r="4.2" fill="rgba(165,15,21,0.5)" stroke="rgba(0,0,0,0.62)" stroke-width="1.3"/>
<circle cx="462.6" cy="309.1" r="4.2" fill="rgba(165,15,21,0.5)" stroke="rgba(0,0,0,0.62)" stroke-width="1.3"/>
<circle cx="463.2" cy="310.9" r="4.2" fill="rgba(165,15,21,0.5)" stroke="rgba(0,0,0,0.62)" stroke-width="1.3"/>
<circle cx="447.4" cy="304.8" r="4.2" fill="rgba(165,15,21,0.5)" stroke="rgba(0,0,0,0.62)" stroke-width="1.3"/>
<circle cx="433.5" cy="308.5" r="4.2" fill="rgba(165,15,21,0.5)" stroke="rgba(0,0,0,0.62)" stroke-width="1.3"/>
<circle cx="442.6" cy="317" r="4.2" fill="rgba(165,15,21,0.5)" stroke="rgba(0,0,0,0.62)" stroke-width="1.3"/>
<circle cx="449.2" cy="317.6" r="4.2" fill="rgba(165,15,21,0.5)" stroke="rgba(0,0,0,0.62)" stroke-width="1.3"/>
<circle cx="450.8" cy="319.6" r="4.2" fill="rgba(165,15,21,0.5)" stroke="rgba(0,0,0,0.62)" stroke-width="1.3"/>
<circle cx="448" cy="323.6" r="4.2" fill="rgba(165,15,21,0.5)" stroke="rgba(0,0,0,0.62)" stroke-width="1.3"/>
<circle cx="435.4" cy="336" r="4.2" fill="rgba(165,15,21,0.5)" stroke="rgba(0,0,0,0.62)" stroke-width="1.3"/>
<circle cx="473.8" cy="333.2" r="4.2" fill="rgba(165,15,21,0.5)" stroke="rgba(0,0,0,0.62)" stroke-width="1.3"/>
<circle cx="451.1" cy="342" r="4.2" fill="rgba(165,15,21,0.5)" stroke="rgba(0,0,0,0.62)" stroke-width="1.3"/>
<circle cx="439.5" cy="350.8" r="4.2" fill="rgba(165,15,21,0.5)" stroke="rgba(0,0,0,0.62)" stroke-width="1.3"/>
<circle cx="430.5" cy="352.8" r="4.2" fill="rgba(165,15,21,0.5)" stroke="rgba(0,0,0,0.62)" stroke-width="1.3"/>
<circle cx="433.1" cy="359.3" r="4.2" fill="rgba(165,15,21,0.5)" stroke="rgba(0,0,0,0.62)" stroke-width="1.3"/>
<circle cx="443.4" cy="378.5" r="4.2" fill="rgba(165,15,21,0.5)" stroke="rgba(0,0,0,0.62)" stroke-width="1.3"/>
<circle cx="525.1" cy="222.9" r="4.2" fill="rgba(65,105,176,0.5)" stroke="rgba(0,0,0,0.62)" stroke-width="1.3"/>
<circle cx="517" cy="232.9" r="4.2" fill="rgba(65,105,176,0.5)" stroke="rgba(0,0,0,0.62)" stroke-width="1.3"/>
<circle cx="533.3" cy="234.7" r="4.2" fill="rgba(65,105,176,0.5)" stroke="rgba(0,0,0,0.62)" stroke-width="1.3"/>
<circle cx="497.6" cy="243.2" r="4.2" fill="rgba(65,105,176,0.5)" stroke="rgba(0,0,0,0.62)" stroke-width="1.3"/>
<circle cx="490.3" cy="248.3" r="4.2" fill="rgba(65,105,176,0.5)" stroke="rgba(0,0,0,0.62)" stroke-width="1.3"/>
<circle cx="498.8" cy="250.1" r="4.2" fill="rgba(65,105,176,0.5)" stroke="rgba(0,0,0,0.62)" stroke-width="1.3"/>
<circle cx="500.6" cy="255.3" r="4.2" fill="rgba(65,105,176,0.5)" stroke="rgba(0,0,0,0.62)" stroke-width="1.3"/>
<circle cx="532.7" cy="249.2" r="4.2" fill="rgba(65,105,176,0.5)" stroke="rgba(0,0,0,0.62)" stroke-width="1.3"/>
<circle cx="527.3" cy="252.3" r="4.2" fill="rgba(65,105,176,0.5)" stroke="rgba(0,0,0,0.62)" stroke-width="1.3"/>
<circle cx="523.6" cy="253.5" r="4.2" fill="rgba(65,105,176,0.5)" stroke="rgba(0,0,0,0.62)" stroke-width="1.3"/>
<circle cx="532.1" cy="254.1" r="4.2" fill="rgba(65,105,176,0.5)" stroke="rgba(0,0,0,0.62)" stroke-width="1.3"/>
<circle cx="527.9" cy="258.3" r="4.2" fill="rgba(65,105,176,0.5)" stroke="rgba(0,0,0,0.62)" stroke-width="1.3"/>
<circle cx="493.1" cy="259.8" r="4.2" fill="rgba(65,105,176,0.5)" stroke="rgba(0,0,0,0.62)" stroke-width="1.3"/>
<circle cx="489.9" cy="263.4" r="4.2" fill="rgba(65,105,176,0.5)" stroke="rgba(0,0,0,0.62)" stroke-width="1.3"/>
<circle cx="508.7" cy="258" r="4.2" fill="rgba(65,105,176,0.5)" stroke="rgba(0,0,0,0.62)" stroke-width="1.3"/>
<circle cx="502.1" cy="264.8" r="4.2" fill="rgba(65,105,176,0.5)" stroke="rgba(0,0,0,0.62)" stroke-width="1.3"/>
<circle cx="511.5" cy="265" r="4.2" fill="rgba(65,105,176,0.5)" stroke="rgba(0,0,0,0.62)" stroke-width="1.3"/>
<circle cx="517.6" cy="262" r="4.2" fill="rgba(65,105,176,0.5)" stroke="rgba(0,0,0,0.62)" stroke-width="1.3"/>
<circle cx="523" cy="265" r="4.2" fill="rgba(65,105,176,0.5)" stroke="rgba(0,0,0,0.62)" stroke-width="1.3"/>
<circle cx="533.3" cy="264.4" r="4.2" fill="rgba(65,105,176,0.5)" stroke="rgba(0,0,0,0.62)" stroke-width="1.3"/>
<circle cx="535.8" cy="265.6" r="4.2" fill="rgba(65,105,176,0.5)" stroke="rgba(0,0,0,0.62)" stroke-width="1.3"/>
<circle cx="528.5" cy="270.5" r="4.2" fill="rgba(65,105,176,0.5)" stroke="rgba(0,0,0,0.62)" stroke-width="1.3"/>
<circle cx="493.9" cy="273.5" r="4.2" fill="rgba(65,105,176,0.5)" stroke="rgba(0,0,0,0.62)" stroke-width="1.3"/>
<circle cx="488.5" cy="281" r="4.2" fill="rgba(65,105,176,0.5)" stroke="rgba(0,0,0,0.62)" stroke-width="1.3"/>
<circle cx="522.7" cy="280.5" r="4.2" fill="rgba(65,105,176,0.5)" stroke="rgba(0,0,0,0.62)" stroke-width="1.3"/>
<circle cx="514.8" cy="281.7" r="4.2" fill="rgba(65,105,176,0.5)" stroke="rgba(0,0,0,0.62)" stroke-width="1.3"/>
<circle cx="490.7" cy="287.4" r="4.2" fill="rgba(65,105,176,0.5)" stroke="rgba(0,0,0,0.62)" stroke-width="1.3"/>
<circle cx="490.9" cy="293.8" r="4.2" fill="rgba(65,105,176,0.5)" stroke="rgba(0,0,0,0.62)" stroke-width="1.3"/>
<circle cx="490.3" cy="299.2" r="4.2" fill="rgba(65,105,176,0.5)" stroke="rgba(0,0,0,0.62)" stroke-width="1.3"/>
<circle cx="503" cy="294.1" r="4.2" fill="rgba(65,105,176,0.5)" stroke="rgba(0,0,0,0.62)" stroke-width="1.3"/>
<circle cx="523" cy="299.5" r="4.2" fill="rgba(65,105,176,0.5)" stroke="rgba(0,0,0,0.62)" stroke-width="1.3"/>
<circle cx="526.7" cy="297.7" r="4.2" fill="rgba(65,105,176,0.5)" stroke="rgba(0,0,0,0.62)" stroke-width="1.3"/>
<circle cx="532.7" cy="300.8" r="4.2" fill="rgba(65,105,176,0.5)" stroke="rgba(0,0,0,0.62)" stroke-width="1.3"/>
<circle cx="499.4" cy="308" r="4.2" fill="rgba(65,105,176,0.5)" stroke="rgba(0,0,0,0.62)" stroke-width="1.3"/>
<circle cx="512.7" cy="307.2" r="4.2" fill="rgba(65,105,176,0.5)" stroke="rgba(0,0,0,0.62)" stroke-width="1.3"/>
<circle cx="520.6" cy="309.6" r="4.2" fill="rgba(65,105,176,0.5)" stroke="rgba(0,0,0,0.62)" stroke-width="1.3"/>
<circle cx="533.9" cy="326.8" r="4.2" fill="rgba(65,105,176,0.5)" stroke="rgba(0,0,0,0.62)" stroke-width="1.3"/>
<circle cx="533.3" cy="328.6" r="4.2" fill="rgba(65,105,176,0.5)" stroke="rgba(0,0,0,0.62)" stroke-width="1.3"/>
<circle cx="489.7" cy="355.7" r="4.2" fill="rgba(65,105,176,0.5)" stroke="rgba(0,0,0,0.62)" stroke-width="1.3"/>
<circle cx="521" cy="356.4" r="4.2" fill="rgba(65,105,176,0.5)" stroke="rgba(0,0,0,0.62)" stroke-width="1.3"/>
<circle cx="507.3" cy="365.4" r="4.2" fill="rgba(65,105,176,0.5)" stroke="rgba(0,0,0,0.62)" stroke-width="1.3"/>
<circle cx="530.3" cy="365.8" r="4.2" fill="rgba(65,105,176,0.5)" stroke="rgba(0,0,0,0.62)" stroke-width="1.3"/>
<circle cx="504" cy="378.5" r="4.2" fill="rgba(65,105,176,0.5)" stroke="rgba(0,0,0,0.62)" stroke-width="1.3"/>
<circle cx="504.5" cy="388.2" r="4.2" fill="rgba(65,105,176,0.5)" stroke="rgba(0,0,0,0.62)" stroke-width="1.3"/>
<circle cx="527.4" cy="252.5" r="4.2" fill="rgba(65,105,176,0.5)" stroke="rgba(0,0,0,0.62)" stroke-width="1.3"/>
<circle cx="527.6" cy="259.8" r="4.2" fill="rgba(65,105,176,0.5)" stroke="rgba(0,0,0,0.62)" stroke-width="1.3"/>
<circle cx="511.3" cy="265.8" r="4.2" fill="rgba(65,105,176,0.5)" stroke="rgba(0,0,0,0.62)" stroke-width="1.3"/>
<line x1="75" y1="297.0" x2="576" y2="297.0" stroke="rgba(0,0,0,0.25)" stroke-width="2"/>
<rect x="122.2" y="327.0" width="23.2" height="6.4" fill="#b22020"/>
<rect x="122.2" y="349.6" width="23.2" height="6.4" fill="#b22020"/>
<rect x="130.7" y="330.2" width="6.4" height="22.6" fill="#b22020"/>
<rect x="192.8" y="290.3" width="23.2" height="6.4" fill="#4668a8"/>
<rect x="192.8" y="318.7" width="23.2" height="6.4" fill="#4668a8"/>
<rect x="201.3" y="293.5" width="6.4" height="28.4" fill="#4668a8"/>
<rect x="278.7" y="299.3" width="23.2" height="6.4" fill="#b22020"/>
<rect x="278.7" y="317.3" width="23.2" height="6.4" fill="#b22020"/>
<rect x="287.2" y="302.5" width="6.4" height="18.0" fill="#b22020"/>
<rect x="349.3" y="275.6" width="23.2" height="6.4" fill="#4668a8"/>
<rect x="349.3" y="305.6" width="23.2" height="6.4" fill="#4668a8"/>
<rect x="357.8" y="278.8" width="6.4" height="30.0" fill="#4668a8"/>
<rect x="435.3" y="274.7" width="23.2" height="6.4" fill="#b22020"/>
<rect x="435.3" y="295.1" width="23.2" height="6.4" fill="#b22020"/>
<rect x="443.8" y="277.9" width="6.4" height="20.4" fill="#b22020"/>
<rect x="505.9" y="269.1" width="23.2" height="6.4" fill="#4668a8"/>
<rect x="505.9" y="289.9" width="23.2" height="6.4" fill="#4668a8"/>
<rect x="514.4" y="272.3" width="6.4" height="20.7" fill="#4668a8"/>
<path d="M38.7,191.60 L40.9,191.60 L40.9,174.80 L40.1,174.80 L34.8,177.40 L35.3,179.20 L38.7,177.50 Z" fill="#4d4d4d"/>
<text transform="translate(45.50,191.60) scale(0.8236,1)" font-size="23.2" fill="#4d4d4d" stroke="#4d4d4d" stroke-width="0.35">0</text>
<text transform="translate(57.90,191.60) scale(0.8236,1)" font-size="23.2" fill="#4d4d4d" stroke="#4d4d4d" stroke-width="0.35">0</text>
<text transform="translate(44.99,248.75) scale(0.9066,1)" font-size="23.2" fill="#4d4d4d" stroke="#4d4d4d" stroke-width="0.35">7</text>
<text transform="translate(58.26,248.75) scale(0.7955,1)" font-size="23.2" fill="#4d4d4d" stroke="#4d4d4d" stroke-width="0.35">5</text>
<text transform="translate(46.16,305.90) scale(0.7955,1)" font-size="23.2" fill="#4d4d4d" stroke="#4d4d4d" stroke-width="0.35">5</text>
<text transform="translate(57.91,305.90) scale(0.8149,1)" font-size="23.2" fill="#4d4d4d" stroke="#4d4d4d" stroke-width="0.35">0</text>
<text transform="translate(45.20,363.00) scale(0.9059,1)" font-size="23.2" fill="#4d4d4d" stroke="#4d4d4d" stroke-width="0.35">2</text>
<text transform="translate(58.26,363.00) scale(0.7955,1)" font-size="23.2" fill="#4d4d4d" stroke="#4d4d4d" stroke-width="0.35">5</text>
<text transform="translate(57.71,420.15) scale(0.8149,1)" font-size="23.2" fill="#4d4d4d" stroke="#4d4d4d" stroke-width="0.35">0</text>
<rect x="97.0" y="636.3" width="70.2" height="85.6" fill="#d2878b"/>
<rect x="171.4" y="612.5" width="70.2" height="109.4" fill="#a0b4d4"/>
<rect x="253.5" y="618.0" width="70.2" height="103.9" fill="#d2878b"/>
<rect x="327.9" y="598.6" width="70.2" height="123.3" fill="#a0b4d4"/>
<rect x="410.1" y="624.0" width="70.2" height="97.9" fill="#d2878b"/>
<rect x="484.5" y="620.9" width="70.2" height="101.0" fill="#a0b4d4"/>
<circle cx="132.8" cy="494.3" r="4.2" fill="rgba(165,15,21,0.5)" stroke="rgba(0,0,0,0.62)" stroke-width="1.3"/>
<circle cx="137.7" cy="531.3" r="4.2" fill="rgba(165,15,21,0.5)" stroke="rgba(0,0,0,0.62)" stroke-width="1.3"/>
<circle cx="150.4" cy="546.8" r="4.2" fill="rgba(165,15,21,0.5)" stroke="rgba(0,0,0,0.62)" stroke-width="1.3"/>
<circle cx="116.5" cy="560.8" r="4.2" fill="rgba(165,15,21,0.5)" stroke="rgba(0,0,0,0.62)" stroke-width="1.3"/>
<circle cx="163.1" cy="578.3" r="4.2" fill="rgba(165,15,21,0.5)" stroke="rgba(0,0,0,0.62)" stroke-width="1.3"/>
<circle cx="156.2" cy="585.3" r="4.2" fill="rgba(165,15,21,0.5)" stroke="rgba(0,0,0,0.62)" stroke-width="1.3"/>
<circle cx="119.2" cy="585.3" r="4.2" fill="rgba(165,15,21,0.5)" stroke="rgba(0,0,0,0.62)" stroke-width="1.3"/>
<circle cx="126.8" cy="586.5" r="4.2" fill="rgba(165,15,21,0.5)" stroke="rgba(0,0,0,0.62)" stroke-width="1.3"/>
<circle cx="125.8" cy="585.5" r="4.2" fill="rgba(165,15,21,0.5)" stroke="rgba(0,0,0,0.62)" stroke-width="1.3"/>
<circle cx="143.2" cy="588.7" r="4.2" fill="rgba(165,15,21,0.5)" stroke="rgba(0,0,0,0.62)" stroke-width="1.3"/>
<circle cx="145.3" cy="592" r="4.2" fill="rgba(165,15,21,0.5)" stroke="rgba(0,0,0,0.62)" stroke-width="1.3"/>
<circle cx="124.3" cy="596.8" r="4.2" fill="rgba(165,15,21,0.5)" stroke="rgba(0,0,0,0.62)" stroke-width="1.3"/>
<circle cx="118" cy="605.7" r="4.2" fill="rgba(165,15,21,0.5)" stroke="rgba(0,0,0,0.62)" stroke-width="1.3"/>
<circle cx="145.3" cy="605" r="4.2" fill="rgba(165,15,21,0.5)" stroke="rgba(0,0,0,0.62)" stroke-width="1.3"/>
<circle cx="151.1" cy="603.5" r="4.2" fill="rgba(165,15,21,0.5)" stroke="rgba(0,0,0,0.62)" stroke-width="1.3"/>
<circle cx="133.8" cy="613.5" r="4.2" fill="rgba(165,15,21,0.5)" stroke="rgba(0,0,0,0.62)" stroke-width="1.3"/>
<circle cx="136.2" cy="614" r="4.2" fill="rgba(165,15,21,0.5)" stroke="rgba(0,0,0,0.62)" stroke-width="1.3"/>
<circle cx="145.7" cy="616.6" r="4.2" fill="rgba(165,15,21,0.5)" stroke="rgba(0,0,0,0.62)" stroke-width="1.3"/>
<circle cx="154.4" cy="621.4" r="4.2" fill="rgba(165,15,21,0.5)" stroke="rgba(0,0,0,0.62)" stroke-width="1.3"/>
<circle cx="157.6" cy="625.7" r="4.2" fill="rgba(165,15,21,0.5)" stroke="rgba(0,0,0,0.62)" stroke-width="1.3"/>
<circle cx="158.6" cy="632.6" r="4.2" fill="rgba(165,15,21,0.5)" stroke="rgba(0,0,0,0.62)" stroke-width="1.3"/>
<circle cx="122.8" cy="628.4" r="4.2" fill="rgba(165,15,21,0.5)" stroke="rgba(0,0,0,0.62)" stroke-width="1.3"/>
<circle cx="144.7" cy="627.2" r="4.2" fill="rgba(165,15,21,0.5)" stroke="rgba(0,0,0,0.62)" stroke-width="1.3"/>
<circle cx="127.1" cy="634.3" r="4.2" fill="rgba(165,15,21,0.5)" stroke="rgba(0,0,0,0.62)" stroke-width="1.3"/>
<circle cx="136.8" cy="634.3" r="4.2" fill="rgba(165,15,21,0.5)" stroke="rgba(0,0,0,0.62)" stroke-width="1.3"/>
<circle cx="124.7" cy="649.1" r="4.2" fill="rgba(165,15,21,0.5)" stroke="rgba(0,0,0,0.62)" stroke-width="1.3"/>
<circle cx="127.7" cy="645.5" r="4.2" fill="rgba(165,15,21,0.5)" stroke="rgba(0,0,0,0.62)" stroke-width="1.3"/>
<circle cx="138.6" cy="652.7" r="4.2" fill="rgba(165,15,21,0.5)" stroke="rgba(0,0,0,0.62)" stroke-width="1.3"/>
<circle cx="140.5" cy="645.5" r="4.2" fill="rgba(165,15,21,0.5)" stroke="rgba(0,0,0,0.62)" stroke-width="1.3"/>
<circle cx="151.4" cy="649.7" r="4.2" fill="rgba(165,15,21,0.5)" stroke="rgba(0,0,0,0.62)" stroke-width="1.3"/>
<circle cx="158.6" cy="649.1" r="4.2" fill="rgba(165,15,21,0.5)" stroke="rgba(0,0,0,0.62)" stroke-width="1.3"/>
<circle cx="148.9" cy="654.5" r="4.2" fill="rgba(165,15,21,0.5)" stroke="rgba(0,0,0,0.62)" stroke-width="1.3"/>
<circle cx="152" cy="657.6" r="4.2" fill="rgba(165,15,21,0.5)" stroke="rgba(0,0,0,0.62)" stroke-width="1.3"/>
<circle cx="158" cy="659.4" r="4.2" fill="rgba(165,15,21,0.5)" stroke="rgba(0,0,0,0.62)" stroke-width="1.3"/>
<circle cx="155.6" cy="654" r="4.2" fill="rgba(165,15,21,0.5)" stroke="rgba(0,0,0,0.62)" stroke-width="1.3"/>
<circle cx="130.8" cy="670.3" r="4.2" fill="rgba(165,15,21,0.5)" stroke="rgba(0,0,0,0.62)" stroke-width="1.3"/>
<circle cx="139.6" cy="667.3" r="4.2" fill="rgba(165,15,21,0.5)" stroke="rgba(0,0,0,0.62)" stroke-width="1.3"/>
<circle cx="152" cy="671.9" r="4.2" fill="rgba(165,15,21,0.5)" stroke="rgba(0,0,0,0.62)" stroke-width="1.3"/>
<circle cx="162.3" cy="673.6" r="4.2" fill="rgba(165,15,21,0.5)" stroke="rgba(0,0,0,0.62)" stroke-width="1.3"/>
<circle cx="116.2" cy="675.2" r="4.2" fill="rgba(165,15,21,0.5)" stroke="rgba(0,0,0,0.62)" stroke-width="1.3"/>
<circle cx="121.6" cy="685.5" r="4.2" fill="rgba(165,15,21,0.5)" stroke="rgba(0,0,0,0.62)" stroke-width="1.3"/>
<circle cx="126.8" cy="684.5" r="4.2" fill="rgba(165,15,21,0.5)" stroke="rgba(0,0,0,0.62)" stroke-width="1.3"/>
<circle cx="120.2" cy="695.3" r="4.2" fill="rgba(165,15,21,0.5)" stroke="rgba(0,0,0,0.62)" stroke-width="1.3"/>
<circle cx="138.6" cy="692.8" r="4.2" fill="rgba(165,15,21,0.5)" stroke="rgba(0,0,0,0.62)" stroke-width="1.3"/>
<circle cx="140.5" cy="697" r="4.2" fill="rgba(165,15,21,0.5)" stroke="rgba(0,0,0,0.62)" stroke-width="1.3"/>
<circle cx="123.8" cy="701.3" r="4.2" fill="rgba(165,15,21,0.5)" stroke="rgba(0,0,0,0.62)" stroke-width="1.3"/>
<circle cx="129.5" cy="707" r="4.2" fill="rgba(165,15,21,0.5)" stroke="rgba(0,0,0,0.62)" stroke-width="1.3"/>
<circle cx="134.4" cy="705.4" r="4.2" fill="rgba(165,15,21,0.5)" stroke="rgba(0,0,0,0.62)" stroke-width="1.3"/>
<circle cx="119.6" cy="717.3" r="4.2" fill="rgba(165,15,21,0.5)" stroke="rgba(0,0,0,0.62)" stroke-width="1.3"/>
<circle cx="148.3" cy="716.1" r="4.2" fill="rgba(165,15,21,0.5)" stroke="rgba(0,0,0,0.62)" stroke-width="1.3"/>
<circle cx="187.1" cy="493.8" r="4.2" fill="rgba(65,105,176,0.5)" stroke="rgba(0,0,0,0.62)" stroke-width="1.3"/>
<circle cx="195.3" cy="498.3" r="4.2" fill="rgba(65,105,176,0.5)" stroke="rgba(0,0,0,0.62)" stroke-width="1.3"/>
<circle cx="195.3" cy="526.8" r="4.2" fill="rgba(65,105,176,0.5)" stroke="rgba(0,0,0,0.62)" stroke-width="1.3"/>
<circle cx="176.5" cy="539.2" r="4.2" fill="rgba(65,105,176,0.5)" stroke="rgba(0,0,0,0.62)" stroke-width="1.3"/>
<circle cx="185" cy="536.5" r="4.2" fill="rgba(65,105,176,0.5)" stroke="rgba(0,0,0,0.62)" stroke-width="1.3"/>
<circle cx="185.6" cy="539.5" r="4.2" fill="rgba(65,105,176,0.5)" stroke="rgba(0,0,0,0.62)" stroke-width="1.3"/>
<circle cx="183" cy="562.3" r="4.2" fill="rgba(65,105,176,0.5)" stroke="rgba(0,0,0,0.62)" stroke-width="1.3"/>
<circle cx="187.4" cy="563.5" r="4.2" fill="rgba(65,105,176,0.5)" stroke="rgba(0,0,0,0.62)" stroke-width="1.3"/>
<circle cx="196.8" cy="562" r="4.2" fill="rgba(65,105,176,0.5)" stroke="rgba(0,0,0,0.62)" stroke-width="1.3"/>
<circle cx="210.1" cy="559.2" r="4.2" fill="rgba(65,105,176,0.5)" stroke="rgba(0,0,0,0.62)" stroke-width="1.3"/>
<circle cx="208.4" cy="566.4" r="4.2" fill="rgba(65,105,176,0.5)" stroke="rgba(0,0,0,0.62)" stroke-width="1.3"/>
<circle cx="216.5" cy="565.5" r="4.2" fill="rgba(65,105,176,0.5)" stroke="rgba(0,0,0,0.62)" stroke-width="1.3"/>
<circle cx="185.8" cy="580.3" r="4.2" fill="rgba(65,105,176,0.5)" stroke="rgba(0,0,0,0.62)" stroke-width="1.3"/>
<circle cx="188" cy="584.8" r="4.2" fill="rgba(65,105,176,0.5)" stroke="rgba(0,0,0,0.62)" stroke-width="1.3"/>
<circle cx="202.9" cy="583.1" r="4.2" fill="rgba(65,105,176,0.5)" stroke="rgba(0,0,0,0.62)" stroke-width="1.3"/>
<circle cx="181" cy="591.2" r="4.2" fill="rgba(65,105,176,0.5)" stroke="rgba(0,0,0,0.62)" stroke-width="1.3"/>
<circle cx="221.4" cy="598.5" r="4.2" fill="rgba(65,105,176,0.5)" stroke="rgba(0,0,0,0.62)" stroke-width="1.3"/>
<circle cx="217.1" cy="601.5" r="4.2" fill="rgba(65,105,176,0.5)" stroke="rgba(0,0,0,0.62)" stroke-width="1.3"/>
<circle cx="192.9" cy="601.5" r="4.2" fill="rgba(65,105,176,0.5)" stroke="rgba(0,0,0,0.62)" stroke-width="1.3"/>
<circle cx="189.8" cy="605.2" r="4.2" fill="rgba(65,105,176,0.5)" stroke="rgba(0,0,0,0.62)" stroke-width="1.3"/>
<circle cx="211.1" cy="603.3" r="4.2" fill="rgba(65,105,176,0.5)" stroke="rgba(0,0,0,0.62)" stroke-width="1.3"/>
<circle cx="174.7" cy="608.2" r="4.2" fill="rgba(65,105,176,0.5)" stroke="rgba(0,0,0,0.62)" stroke-width="1.3"/>
<circle cx="221" cy="610.5" r="4.2" fill="rgba(65,105,176,0.5)" stroke="rgba(0,0,0,0.62)" stroke-width="1.3"/>
<circle cx="200.2" cy="611.8" r="4.2" fill="rgba(65,105,176,0.5)" stroke="rgba(0,0,0,0.62)" stroke-width="1.3"/>
<circle cx="208.6" cy="611.8" r="4.2" fill="rgba(65,105,176,0.5)" stroke="rgba(0,0,0,0.62)" stroke-width="1.3"/>
<circle cx="185.6" cy="615.8" r="4.2" fill="rgba(65,105,176,0.5)" stroke="rgba(0,0,0,0.62)" stroke-width="1.3"/>
<circle cx="192.3" cy="617" r="4.2" fill="rgba(65,105,176,0.5)" stroke="rgba(0,0,0,0.62)" stroke-width="1.3"/>
<circle cx="181.4" cy="624" r="4.2" fill="rgba(65,105,176,0.5)" stroke="rgba(0,0,0,0.62)" stroke-width="1.3"/>
<circle cx="191.7" cy="621.5" r="4.2" fill="rgba(65,105,176,0.5)" stroke="rgba(0,0,0,0.62)" stroke-width="1.3"/>
<circle cx="208" cy="620.5" r="4.2" fill="rgba(65,105,176,0.5)" stroke="rgba(0,0,0,0.62)" stroke-width="1.3"/>
<circle cx="191.7" cy="629.4" r="4.2" fill="rgba(65,105,176,0.5)" stroke="rgba(0,0,0,0.62)" stroke-width="1.3"/>
<circle cx="197.5" cy="631.2" r="4.2" fill="rgba(65,105,176,0.5)" stroke="rgba(0,0,0,0.62)" stroke-width="1.3"/>
<circle cx="203.8" cy="633" r="4.2" fill="rgba(65,105,176,0.5)" stroke="rgba(0,0,0,0.62)" stroke-width="1.3"/>
<circle cx="196.5" cy="637.3" r="4.2" fill="rgba(65,105,176,0.5)" stroke="rgba(0,0,0,0.62)" stroke-width="1.3"/>
<circle cx="197.1" cy="640.3" r="4.2" fill="rgba(65,105,176,0.5)" stroke="rgba(0,0,0,0.62)" stroke-width="1.3"/>
<circle cx="191.1" cy="641.3" r="4.2" fill="rgba(65,105,176,0.5)" stroke="rgba(0,0,0,0.62)" stroke-width="1.3"/>
<circle cx="180.8" cy="639.1" r="4.2" fill="rgba(65,105,176,0.5)" stroke="rgba(0,0,0,0.62)" stroke-width="1.3"/>
<circle cx="188.6" cy="647" r="4.2" fill="rgba(65,105,176,0.5)" stroke="rgba(0,0,0,0.62)" stroke-width="1.3"/>
<circle cx="194.7" cy="651.2" r="4.2" fill="rgba(65,105,176,0.5)" stroke="rgba(0,0,0,0.62)" stroke-width="1.3"/>
<circle cx="205.6" cy="647.6" r="4.2" fill="rgba(65,105,176,0.5)" stroke="rgba(0,0,0,0.62)" stroke-width="1.3"/>
<circle cx="210.5" cy="654.2" r="4.2" fill="rgba(65,105,176,0.5)" stroke="rgba(0,0,0,0.62)" stroke-width="1.3"/>
<circle cx="219.5" cy="658.1" r="4.2" fill="rgba(65,105,176,0.5)" stroke="rgba(0,0,0,0.62)" stroke-width="1.3"/>
<circle cx="200.2" cy="659.7" r="4.2" fill="rgba(65,105,176,0.5)" stroke="rgba(0,0,0,0.62)" stroke-width="1.3"/>
<circle cx="201.1" cy="665.2" r="4.2" fill="rgba(65,105,176,0.5)" stroke="rgba(0,0,0,0.62)" stroke-width="1.3"/>
<circle cx="215.9" cy="667.2" r="4.2" fill="rgba(65,105,176,0.5)" stroke="rgba(0,0,0,0.62)" stroke-width="1.3"/>
<circle cx="180.8" cy="664.8" r="4.2" fill="rgba(65,105,176,0.5)" stroke="rgba(0,0,0,0.62)" stroke-width="1.3"/>
<circle cx="180.8" cy="672" r="4.2" fill="rgba(65,105,176,0.5)" stroke="rgba(0,0,0,0.62)" stroke-width="1.3"/>
<circle cx="190.8" cy="683.5" r="4.2" fill="rgba(65,105,176,0.5)" stroke="rgba(0,0,0,0.62)" stroke-width="1.3"/>
<circle cx="217.7" cy="683" r="4.2" fill="rgba(65,105,176,0.5)" stroke="rgba(0,0,0,0.62)" stroke-width="1.3"/>
<circle cx="209.8" cy="687.5" r="4.2" fill="rgba(65,105,176,0.5)" stroke="rgba(0,0,0,0.62)" stroke-width="1.3"/>
<circle cx="181.4" cy="690.5" r="4.2" fill="rgba(65,105,176,0.5)" stroke="rgba(0,0,0,0.62)" stroke-width="1.3"/>
<circle cx="200.5" cy="692.1" r="4.2" fill="rgba(65,105,176,0.5)" stroke="rgba(0,0,0,0.62)" stroke-width="1.3"/>
<circle cx="183.5" cy="562.8" r="4.2" fill="rgba(65,105,176,0.5)" stroke="rgba(0,0,0,0.62)" stroke-width="1.3"/>
<circle cx="317.5" cy="507.7" r="4.2" fill="rgba(165,15,21,0.5)" stroke="rgba(0,0,0,0.62)" stroke-width="1.3"/>
<circle cx="286.8" cy="551.2" r="4.2" fill="rgba(165,15,21,0.5)" stroke="rgba(0,0,0,0.62)" stroke-width="1.3"/>
<circle cx="305.6" cy="552.6" r="4.2" fill="rgba(165,15,21,0.5)" stroke="rgba(0,0,0,0.62)" stroke-width="1.3"/>
<circle cx="319.2" cy="558.6" r="4.2" fill="rgba(165,15,21,0.5)" stroke="rgba(0,0,0,0.62)" stroke-width="1.3"/>
<circle cx="280.2" cy="564.9" r="4.2" fill="rgba(165,15,21,0.5)" stroke="rgba(0,0,0,0.62)" stroke-width="1.3"/>
<circle cx="299.5" cy="567.6" r="4.2" fill="rgba(165,15,21,0.5)" stroke="rgba(0,0,0,0.62)" stroke-width="1.3"/>
<circle cx="302.9" cy="572.4" r="4.2" fill="rgba(165,15,21,0.5)" stroke="rgba(0,0,0,0.62)" stroke-width="1.3"/>
<circle cx="285" cy="580.9" r="4.2" fill="rgba(165,15,21,0.5)" stroke="rgba(0,0,0,0.62)" stroke-width="1.3"/>
<circle cx="298.3" cy="584.2" r="4.2" fill="rgba(165,15,21,0.5)" stroke="rgba(0,0,0,0.62)" stroke-width="1.3"/>
<circle cx="306.2" cy="582.1" r="4.2" fill="rgba(165,15,21,0.5)" stroke="rgba(0,0,0,0.62)" stroke-width="1.3"/>
<circle cx="307.4" cy="584" r="4.2" fill="rgba(165,15,21,0.5)" stroke="rgba(0,0,0,0.62)" stroke-width="1.3"/>
<circle cx="305.4" cy="585.2" r="4.2" fill="rgba(165,15,21,0.5)" stroke="rgba(0,0,0,0.62)" stroke-width="1.3"/>
<circle cx="319.5" cy="591.5" r="4.2" fill="rgba(165,15,21,0.5)" stroke="rgba(0,0,0,0.62)" stroke-width="1.3"/>
<circle cx="275.9" cy="588.5" r="4.2" fill="rgba(165,15,21,0.5)" stroke="rgba(0,0,0,0.62)" stroke-width="1.3"/>
<circle cx="283.8" cy="594.2" r="4.2" fill="rgba(165,15,21,0.5)" stroke="rgba(0,0,0,0.62)" stroke-width="1.3"/>
<circle cx="292.3" cy="594.2" r="4.2" fill="rgba(165,15,21,0.5)" stroke="rgba(0,0,0,0.62)" stroke-width="1.3"/>
<circle cx="286.2" cy="600.3" r="4.2" fill="rgba(165,15,21,0.5)" stroke="rgba(0,0,0,0.62)" stroke-width="1.3"/>
<circle cx="293.5" cy="602.1" r="4.2" fill="rgba(165,15,21,0.5)" stroke="rgba(0,0,0,0.62)" stroke-width="1.3"/>
<circle cx="313.5" cy="603.3" r="4.2" fill="rgba(165,15,21,0.5)" stroke="rgba(0,0,0,0.62)" stroke-width="1.3"/>
<circle cx="316.5" cy="607" r="4.2" fill="rgba(165,15,21,0.5)" stroke="rgba(0,0,0,0.62)" stroke-width="1.3"/>
<circle cx="315.3" cy="605.8" r="4.2" fill="rgba(165,15,21,0.5)" stroke="rgba(0,0,0,0.62)" stroke-width="1.3"/>
<circle cx="307.4" cy="612.5" r="4.2" fill="rgba(165,15,21,0.5)" stroke="rgba(0,0,0,0.62)" stroke-width="1.3"/>
<circle cx="315.3" cy="616.5" r="4.2" fill="rgba(165,15,21,0.5)" stroke="rgba(0,0,0,0.62)" stroke-width="1.3"/>
<circle cx="315.3" cy="618" r="4.2" fill="rgba(165,15,21,0.5)" stroke="rgba(0,0,0,0.62)" stroke-width="1.3"/>
<circle cx="286.8" cy="616.5" r="4.2" fill="rgba(165,15,21,0.5)" stroke="rgba(0,0,0,0.62)" stroke-width="1.3"/>
<circle cx="272.6" cy="619" r="4.2" fill="rgba(165,15,21,0.5)" stroke="rgba(0,0,0,0.62)" stroke-width="1.3"/>
<circle cx="306.8" cy="620.3" r="4.2" fill="rgba(165,15,21,0.5)" stroke="rgba(0,0,0,0.62)" stroke-width="1.3"/>
<circle cx="308" cy="628.2" r="4.2" fill="rgba(165,15,21,0.5)" stroke="rgba(0,0,0,0.62)" stroke-width="1.3"/>
<circle cx="309.2" cy="631.8" r="4.2" fill="rgba(165,15,21,0.5)" stroke="rgba(0,0,0,0.62)" stroke-width="1.3"/>
<circle cx="315.3" cy="631.2" r="4.2" fill="rgba(165,15,21,0.5)" stroke="rgba(0,0,0,0.62)" stroke-width="1.3"/>
<circle cx="319.5" cy="629.4" r="4.2" fill="rgba(165,15,21,0.5)" stroke="rgba(0,0,0,0.62)" stroke-width="1.3"/>
<circle cx="282.6" cy="633.6" r="4.2" fill="rgba(165,15,21,0.5)" stroke="rgba(0,0,0,0.62)" stroke-width="1.3"/>
<circle cx="277.1" cy="637.9" r="4.2" fill="rgba(165,15,21,0.5)" stroke="rgba(0,0,0,0.62)" stroke-width="1.3"/>
<circle cx="291.1" cy="639.1" r="4.2" fill="rgba(165,15,21,0.5)" stroke="rgba(0,0,0,0.62)" stroke-width="1.3"/>
<circle cx="298.3" cy="639.1" r="4.2" fill="rgba(165,15,21,0.5)" stroke="rgba(0,0,0,0.62)" stroke-width="1.3"/>
<circle cx="278.3" cy="644.5" r="4.2" fill="rgba(165,15,21,0.5)" stroke="rgba(0,0,0,0.62)" stroke-width="1.3"/>
<circle cx="288.6" cy="645.2" r="4.2" fill="rgba(165,15,21,0.5)" stroke="rgba(0,0,0,0.62)" stroke-width="1.3"/>
<circle cx="292.9" cy="649.4" r="4.2" fill="rgba(165,15,21,0.5)" stroke="rgba(0,0,0,0.62)" stroke-width="1.3"/>
<circle cx="286.8" cy="653.6" r="4.2" fill="rgba(165,15,21,0.5)" stroke="rgba(0,0,0,0.62)" stroke-width="1.3"/>
<circle cx="294.1" cy="653.4" r="4.2" fill="rgba(165,15,21,0.5)" stroke="rgba(0,0,0,0.62)" stroke-width="1.3"/>
<circle cx="284.4" cy="658.5" r="4.2" fill="rgba(165,15,21,0.5)" stroke="rgba(0,0,0,0.62)" stroke-width="1.3"/>
<circle cx="286.2" cy="664.9" r="4.2" fill="rgba(165,15,21,0.5)" stroke="rgba(0,0,0,0.62)" stroke-width="1.3"/>
<circle cx="301.4" cy="665.2" r="4.2" fill="rgba(165,15,21,0.5)" stroke="rgba(0,0,0,0.62)" stroke-width="1.3"/>
<circle cx="306.2" cy="661.5" r="4.2" fill="rgba(165,15,21,0.5)" stroke="rgba(0,0,0,0.62)" stroke-width="1.3"/>
<circle cx="309.8" cy="662.8" r="4.2" fill="rgba(165,15,21,0.5)" stroke="rgba(0,0,0,0.62)" stroke-width="1.3"/>
<circle cx="300.5" cy="690.9" r="4.2" fill="rgba(165,15,21,0.5)" stroke="rgba(0,0,0,0.62)" stroke-width="1.3"/>
<circle cx="312.5" cy="710.1" r="4.2" fill="rgba(165,15,21,0.5)" stroke="rgba(0,0,0,0.62)" stroke-width="1.3"/>
<circle cx="305" cy="722.1" r="4.2" fill="rgba(165,15,21,0.5)" stroke="rgba(0,0,0,0.62)" stroke-width="1.3"/>
<circle cx="356.4" cy="493.7" r="4.2" fill="rgba(65,105,176,0.5)" stroke="rgba(0,0,0,0.62)" stroke-width="1.3"/>
<circle cx="349.1" cy="499.3" r="4.2" fill="rgba(65,105,176,0.5)" stroke="rgba(0,0,0,0.62)" stroke-width="1.3"/>
<circle cx="373.3" cy="498.3" r="4.2" fill="rgba(65,105,176,0.5)" stroke="rgba(0,0,0,0.62)" stroke-width="1.3"/>
<circle cx="368.2" cy="511.4" r="4.2" fill="rgba(65,105,176,0.5)" stroke="rgba(0,0,0,0.62)" stroke-width="1.3"/>
<circle cx="353" cy="521.1" r="4.2" fill="rgba(65,105,176,0.5)" stroke="rgba(0,0,0,0.62)" stroke-width="1.3"/>
<circle cx="353.6" cy="521.6" r="4.2" fill="rgba(65,105,176,0.5)" stroke="rgba(0,0,0,0.62)" stroke-width="1.3"/>
<circle cx="341.8" cy="534.5" r="4.2" fill="rgba(65,105,176,0.5)" stroke="rgba(0,0,0,0.62)" stroke-width="1.3"/>
<circle cx="351.3" cy="539.8" r="4.2" fill="rgba(65,105,176,0.5)" stroke="rgba(0,0,0,0.62)" stroke-width="1.3"/>
<circle cx="343.6" cy="544.2" r="4.2" fill="rgba(65,105,176,0.5)" stroke="rgba(0,0,0,0.62)" stroke-width="1.3"/>
<circle cx="368.7" cy="543.8" r="4.2" fill="rgba(65,105,176,0.5)" stroke="rgba(0,0,0,0.62)" stroke-width="1.3"/>
<circle cx="364.6" cy="551.7" r="4.2" fill="rgba(65,105,176,0.5)" stroke="rgba(0,0,0,0.62)" stroke-width="1.3"/>
<circle cx="365.2" cy="552.2" r="4.2" fill="rgba(65,105,176,0.5)" stroke="rgba(0,0,0,0.62)" stroke-width="1.3"/>
<circle cx="354.5" cy="558.1" r="4.2" fill="rgba(65,105,176,0.5)" stroke="rgba(0,0,0,0.62)" stroke-width="1.3"/>
<circle cx="344.8" cy="567" r="4.2" fill="rgba(65,105,176,0.5)" stroke="rgba(0,0,0,0.62)" stroke-width="1.3"/>
<circle cx="335.2" cy="570.8" r="4.2" fill="rgba(65,105,176,0.5)" stroke="rgba(0,0,0,0.62)" stroke-width="1.3"/>
<circle cx="338.2" cy="572.4" r="4.2" fill="rgba(65,105,176,0.5)" stroke="rgba(0,0,0,0.62)" stroke-width="1.3"/>
<circle cx="361.2" cy="573.6" r="4.2" fill="rgba(65,105,176,0.5)" stroke="rgba(0,0,0,0.62)" stroke-width="1.3"/>
<circle cx="370.3" cy="574.8" r="4.2" fill="rgba(65,105,176,0.5)" stroke="rgba(0,0,0,0.62)" stroke-width="1.3"/>
<circle cx="369.1" cy="577.3" r="4.2" fill="rgba(65,105,176,0.5)" stroke="rgba(0,0,0,0.62)" stroke-width="1.3"/>
<circle cx="340" cy="582.7" r="4.2" fill="rgba(65,105,176,0.5)" stroke="rgba(0,0,0,0.62)" stroke-width="1.3"/>
<circle cx="350.3" cy="582.1" r="4.2" fill="rgba(65,105,176,0.5)" stroke="rgba(0,0,0,0.62)" stroke-width="1.3"/>
<circle cx="363" cy="587.6" r="4.2" fill="rgba(65,105,176,0.5)" stroke="rgba(0,0,0,0.62)" stroke-width="1.3"/>
<circle cx="347.9" cy="590.6" r="4.2" fill="rgba(65,105,176,0.5)" stroke="rgba(0,0,0,0.62)" stroke-width="1.3"/>
<circle cx="349.7" cy="597.3" r="4.2" fill="rgba(65,105,176,0.5)" stroke="rgba(0,0,0,0.62)" stroke-width="1.3"/>
<circle cx="332.7" cy="599.1" r="4.2" fill="rgba(65,105,176,0.5)" stroke="rgba(0,0,0,0.62)" stroke-width="1.3"/>
<circle cx="336.4" cy="600.3" r="4.2" fill="rgba(65,105,176,0.5)" stroke="rgba(0,0,0,0.62)" stroke-width="1.3"/>
<circle cx="332.1" cy="604.5" r="4.2" fill="rgba(65,105,176,0.5)" stroke="rgba(0,0,0,0.62)" stroke-width="1.3"/>
<circle cx="338.2" cy="605.8" r="4.2" fill="rgba(65,105,176,0.5)" stroke="rgba(0,0,0,0.62)" stroke-width="1.3"/>
<circle cx="372.7" cy="612.4" r="4.2" fill="rgba(65,105,176,0.5)" stroke="rgba(0,0,0,0.62)" stroke-width="1.3"/>
<circle cx="339.4" cy="616.4" r="4.2" fill="rgba(65,105,176,0.5)" stroke="rgba(0,0,0,0.62)" stroke-width="1.3"/>
<circle cx="344.8" cy="616.4" r="4.2" fill="rgba(65,105,176,0.5)" stroke="rgba(0,0,0,0.62)" stroke-width="1.3"/>
<circle cx="340" cy="622.5" r="4.2" fill="rgba(65,105,176,0.5)" stroke="rgba(0,0,0,0.62)" stroke-width="1.3"/>
<circle cx="369.7" cy="621.6" r="4.2" fill="rgba(65,105,176,0.5)" stroke="rgba(0,0,0,0.62)" stroke-width="1.3"/>
<circle cx="377.6" cy="623.4" r="4.2" fill="rgba(65,105,176,0.5)" stroke="rgba(0,0,0,0.62)" stroke-width="1.3"/>
<circle cx="351.8" cy="635" r="4.2" fill="rgba(65,105,176,0.5)" stroke="rgba(0,0,0,0.62)" stroke-width="1.3"/>
<circle cx="357.6" cy="631.4" r="4.2" fill="rgba(65,105,176,0.5)" stroke="rgba(0,0,0,0.62)" stroke-width="1.3"/>
<circle cx="363.9" cy="635" r="4.2" fill="rgba(65,105,176,0.5)" stroke="rgba(0,0,0,0.62)" stroke-width="1.3"/>
<circle cx="366.1" cy="631.4" r="4.2" fill="rgba(65,105,176,0.5)" stroke="rgba(0,0,0,0.62)" stroke-width="1.3"/>
<circle cx="378.4" cy="637.4" r="4.2" fill="rgba(65,105,176,0.5)" stroke="rgba(0,0,0,0.62)" stroke-width="1.3"/>
<circle cx="347.3" cy="643.8" r="4.2" fill="rgba(65,105,176,0.5)" stroke="rgba(0,0,0,0.62)" stroke-width="1.3"/>
<circle cx="342.8" cy="647.7" r="4.2" fill="rgba(65,105,176,0.5)" stroke="rgba(0,0,0,0.62)" stroke-width="1.3"/>
<circle cx="365.5" cy="644.5" r="4.2" fill="rgba(65,105,176,0.5)" stroke="rgba(0,0,0,0.62)" stroke-width="1.3"/>
<circle cx="364.6" cy="654.4" r="4.2" fill="rgba(65,105,176,0.5)" stroke="rgba(0,0,0,0.62)" stroke-width="1.3"/>
<circle cx="365.5" cy="658" r="4.2" fill="rgba(65,105,176,0.5)" stroke="rgba(0,0,0,0.62)" stroke-width="1.3"/>
<circle cx="378.4" cy="667.7" r="4.2" fill="rgba(65,105,176,0.5)" stroke="rgba(0,0,0,0.62)" stroke-width="1.3"/>
<circle cx="349.7" cy="673.3" r="4.2" fill="rgba(65,105,176,0.5)" stroke="rgba(0,0,0,0.62)" stroke-width="1.3"/>
<circle cx="342.3" cy="675.4" r="4.2" fill="rgba(65,105,176,0.5)" stroke="rgba(0,0,0,0.62)" stroke-width="1.3"/>
<circle cx="361" cy="678.6" r="4.2" fill="rgba(65,105,176,0.5)" stroke="rgba(0,0,0,0.62)" stroke-width="1.3"/>
<circle cx="340.8" cy="708.8" r="4.2" fill="rgba(65,105,176,0.5)" stroke="rgba(0,0,0,0.62)" stroke-width="1.3"/>
<circle cx="364.8" cy="711.8" r="4.2" fill="rgba(65,105,176,0.5)" stroke="rgba(0,0,0,0.62)" stroke-width="1.3"/>
<circle cx="430.2" cy="555.2" r="4.2" fill="rgba(165,15,21,0.5)" stroke="rgba(0,0,0,0.62)" stroke-width="1.3"/>
<circle cx="469.8" cy="559" r="4.2" fill="rgba(165,15,21,0.5)" stroke="rgba(0,0,0,0.62)" stroke-width="1.3"/>
<circle cx="470.5" cy="568.1" r="4.2" fill="rgba(165,15,21,0.5)" stroke="rgba(0,0,0,0.62)" stroke-width="1.3"/>
<circle cx="451.1" cy="571.3" r="4.2" fill="rgba(165,15,21,0.5)" stroke="rgba(0,0,0,0.62)" stroke-width="1.3"/>
<circle cx="449.2" cy="578.8" r="4.2" fill="rgba(165,15,21,0.5)" stroke="rgba(0,0,0,0.62)" stroke-width="1.3"/>
<circle cx="469.2" cy="577.6" r="4.2" fill="rgba(165,15,21,0.5)" stroke="rgba(0,0,0,0.62)" stroke-width="1.3"/>
<circle cx="469.8" cy="583.6" r="4.2" fill="rgba(165,15,21,0.5)" stroke="rgba(0,0,0,0.62)" stroke-width="1.3"/>
<circle cx="471.7" cy="583" r="4.2" fill="rgba(165,15,21,0.5)" stroke="rgba(0,0,0,0.62)" stroke-width="1.3"/>
<circle cx="471.1" cy="586.7" r="4.2" fill="rgba(165,15,21,0.5)" stroke="rgba(0,0,0,0.62)" stroke-width="1.3"/>
<circle cx="463.2" cy="588.2" r="4.2" fill="rgba(165,15,21,0.5)" stroke="rgba(0,0,0,0.62)" stroke-width="1.3"/>
<circle cx="442.6" cy="583.6" r="4.2" fill="rgba(165,15,21,0.5)" stroke="rgba(0,0,0,0.62)" stroke-width="1.3"/>
<circle cx="435.9" cy="592.1" r="4.2" fill="rgba(165,15,21,0.5)" stroke="rgba(0,0,0,0.62)" stroke-width="1.3"/>
<circle cx="443.5" cy="590.9" r="4.2" fill="rgba(165,15,21,0.5)" stroke="rgba(0,0,0,0.62)" stroke-width="1.3"/>
<circle cx="447.4" cy="592.7" r="4.2" fill="rgba(165,15,21,0.5)" stroke="rgba(0,0,0,0.62)" stroke-width="1.3"/>
<circle cx="453.2" cy="593.9" r="4.2" fill="rgba(165,15,21,0.5)" stroke="rgba(0,0,0,0.62)" stroke-width="1.3"/>
<circle cx="452.3" cy="599.4" r="4.2" fill="rgba(165,15,21,0.5)" stroke="rgba(0,0,0,0.62)" stroke-width="1.3"/>
<circle cx="448.6" cy="604.8" r="4.2" fill="rgba(165,15,21,0.5)" stroke="rgba(0,0,0,0.62)" stroke-width="1.3"/>
<circle cx="468.6" cy="603.2" r="4.2" fill="rgba(165,15,21,0.5)" stroke="rgba(0,0,0,0.62)" stroke-width="1.3"/>
<circle cx="439" cy="609.1" r="4.2" fill="rgba(165,15,21,0.5)" stroke="rgba(0,0,0,0.62)" stroke-width="1.3"/>
<circle cx="436.5" cy="611.5" r="4.2" fill="rgba(165,15,21,0.5)" stroke="rgba(0,0,0,0.62)" stroke-width="1.3"/>
<circle cx="462" cy="610.9" r="4.2" fill="rgba(165,15,21,0.5)" stroke="rgba(0,0,0,0.62)" stroke-width="1.3"/>
<circle cx="467.4" cy="615.2" r="4.2" fill="rgba(165,15,21,0.5)" stroke="rgba(0,0,0,0.62)" stroke-width="1.3"/>
<circle cx="473.1" cy="614.6" r="4.2" fill="rgba(165,15,21,0.5)" stroke="rgba(0,0,0,0.62)" stroke-width="1.3"/>
<circle cx="459.8" cy="616.7" r="4.2" fill="rgba(165,15,21,0.5)" stroke="rgba(0,0,0,0.62)" stroke-width="1.3"/>
<circle cx="452.9" cy="609.7" r="4.2" fill="rgba(165,15,21,0.5)" stroke="rgba(0,0,0,0.62)" stroke-width="1.3"/>
<circle cx="439.5" cy="619.4" r="4.2" fill="rgba(165,15,21,0.5)" stroke="rgba(0,0,0,0.62)" stroke-width="1.3"/>
<circle cx="441.4" cy="621.2" r="4.2" fill="rgba(165,15,21,0.5)" stroke="rgba(0,0,0,0.62)" stroke-width="1.3"/>
<circle cx="454.1" cy="626.1" r="4.2" fill="rgba(165,15,21,0.5)" stroke="rgba(0,0,0,0.62)" stroke-width="1.3"/>
<circle cx="433.5" cy="628.1" r="4.2" fill="rgba(165,15,21,0.5)" stroke="rgba(0,0,0,0.62)" stroke-width="1.3"/>
<circle cx="433.1" cy="636.4" r="4.2" fill="rgba(165,15,21,0.5)" stroke="rgba(0,0,0,0.62)" stroke-width="1.3"/>
<circle cx="467.4" cy="635.2" r="4.2" fill="rgba(165,15,21,0.5)" stroke="rgba(0,0,0,0.62)" stroke-width="1.3"/>
<circle cx="474.1" cy="640" r="4.2" fill="rgba(165,15,21,0.5)" stroke="rgba(0,0,0,0.62)" stroke-width="1.3"/>
<circle cx="450.8" cy="643.9" r="4.2" fill="rgba(165,15,21,0.5)" stroke="rgba(0,0,0,0.62)" stroke-width="1.3"/>
<circle cx="470.5" cy="649.1" r="4.2" fill="rgba(165,15,21,0.5)" stroke="rgba(0,0,0,0.62)" stroke-width="1.3"/>
<circle cx="460.2" cy="652.1" r="4.2" fill="rgba(165,15,21,0.5)" stroke="rgba(0,0,0,0.62)" stroke-width="1.3"/>
<circle cx="446.5" cy="656" r="4.2" fill="rgba(165,15,21,0.5)" stroke="rgba(0,0,0,0.62)" stroke-width="1.3"/>
<circle cx="450" cy="662.7" r="4.2" fill="rgba(165,15,21,0.5)" stroke="rgba(0,0,0,0.62)" stroke-width="1.3"/>
<circle cx="447.7" cy="666.5" r="4.2" fill="rgba(165,15,21,0.5)" stroke="rgba(0,0,0,0.62)" stroke-width="1.3"/>
<circle cx="457.7" cy="667.4" r="4.2" fill="rgba(165,15,21,0.5)" stroke="rgba(0,0,0,0.62)" stroke-width="1.3"/>
<circle cx="456.5" cy="672.1" r="4.2" fill="rgba(165,15,21,0.5)" stroke="rgba(0,0,0,0.62)" stroke-width="1.3"/>
<circle cx="463.1" cy="676" r="4.2" fill="rgba(165,15,21,0.5)" stroke="rgba(0,0,0,0.62)" stroke-width="1.3"/>
<circle cx="433.5" cy="669.1" r="4.2" fill="rgba(165,15,21,0.5)" stroke="rgba(0,0,0,0.62)" stroke-width="1.3"/>
<circle cx="446.2" cy="681.6" r="4.2" fill="rgba(165,15,21,0.5)" stroke="rgba(0,0,0,0.62)" stroke-width="1.3"/>
<circle cx="435.5" cy="686.3" r="4.2" fill="rgba(165,15,21,0.5)" stroke="rgba(0,0,0,0.62)" stroke-width="1.3"/>
<circle cx="430.5" cy="694.5" r="4.2" fill="rgba(165,15,21,0.5)" stroke="rgba(0,0,0,0.62)" stroke-width="1.3"/>
<circle cx="470.1" cy="687.3" r="4.2" fill="rgba(165,15,21,0.5)" stroke="rgba(0,0,0,0.62)" stroke-width="1.3"/>
<circle cx="455.3" cy="700" r="4.2" fill="rgba(165,15,21,0.5)" stroke="rgba(0,0,0,0.62)" stroke-width="1.3"/>
<circle cx="460.2" cy="719.4" r="4.2" fill="rgba(165,15,21,0.5)" stroke="rgba(0,0,0,0.62)" stroke-width="1.3"/>
<circle cx="432.5" cy="628.8" r="4.2" fill="rgba(165,15,21,0.5)" stroke="rgba(0,0,0,0.62)" stroke-width="1.3"/>
<circle cx="498.8" cy="557.2" r="4.2" fill="rgba(65,105,176,0.5)" stroke="rgba(0,0,0,0.62)" stroke-width="1.3"/>
<circle cx="511.8" cy="559.2" r="4.2" fill="rgba(65,105,176,0.5)" stroke="rgba(0,0,0,0.62)" stroke-width="1.3"/>
<circle cx="521.2" cy="560" r="4.2" fill="rgba(65,105,176,0.5)" stroke="rgba(0,0,0,0.62)" stroke-width="1.3"/>
<circle cx="527.3" cy="553.9" r="4.2" fill="rgba(65,105,176,0.5)" stroke="rgba(0,0,0,0.62)" stroke-width="1.3"/>
<circle cx="522.2" cy="567.9" r="4.2" fill="rgba(65,105,176,0.5)" stroke="rgba(0,0,0,0.62)" stroke-width="1.3"/>
<circle cx="499.4" cy="571.3" r="4.2" fill="rgba(65,105,176,0.5)" stroke="rgba(0,0,0,0.62)" stroke-width="1.3"/>
<circle cx="493.6" cy="577.3" r="4.2" fill="rgba(65,105,176,0.5)" stroke="rgba(0,0,0,0.62)" stroke-width="1.3"/>
<circle cx="500.8" cy="577.3" r="4.2" fill="rgba(65,105,176,0.5)" stroke="rgba(0,0,0,0.62)" stroke-width="1.3"/>
<circle cx="530.9" cy="581.8" r="4.2" fill="rgba(65,105,176,0.5)" stroke="rgba(0,0,0,0.62)" stroke-width="1.3"/>
<circle cx="516.4" cy="588.2" r="4.2" fill="rgba(65,105,176,0.5)" stroke="rgba(0,0,0,0.62)" stroke-width="1.3"/>
<circle cx="523" cy="587.3" r="4.2" fill="rgba(65,105,176,0.5)" stroke="rgba(0,0,0,0.62)" stroke-width="1.3"/>
<circle cx="528.5" cy="591.2" r="4.2" fill="rgba(65,105,176,0.5)" stroke="rgba(0,0,0,0.62)" stroke-width="1.3"/>
<circle cx="533.3" cy="592.1" r="4.2" fill="rgba(65,105,176,0.5)" stroke="rgba(0,0,0,0.62)" stroke-width="1.3"/>
<circle cx="535.8" cy="595.2" r="4.2" fill="rgba(65,105,176,0.5)" stroke="rgba(0,0,0,0.62)" stroke-width="1.3"/>
<circle cx="521.8" cy="597" r="4.2" fill="rgba(65,105,176,0.5)" stroke="rgba(0,0,0,0.62)" stroke-width="1.3"/>
<circle cx="488.2" cy="603.8" r="4.2" fill="rgba(65,105,176,0.5)" stroke="rgba(0,0,0,0.62)" stroke-width="1.3"/>
<circle cx="491.5" cy="608.7" r="4.2" fill="rgba(65,105,176,0.5)" stroke="rgba(0,0,0,0.62)" stroke-width="1.3"/>
<circle cx="490.5" cy="614.8" r="4.2" fill="rgba(65,105,176,0.5)" stroke="rgba(0,0,0,0.62)" stroke-width="1.3"/>
<circle cx="502.1" cy="607.3" r="4.2" fill="rgba(65,105,176,0.5)" stroke="rgba(0,0,0,0.62)" stroke-width="1.3"/>
<circle cx="523.6" cy="605.5" r="4.2" fill="rgba(65,105,176,0.5)" stroke="rgba(0,0,0,0.62)" stroke-width="1.3"/>
<circle cx="526.7" cy="606.1" r="4.2" fill="rgba(65,105,176,0.5)" stroke="rgba(0,0,0,0.62)" stroke-width="1.3"/>
<circle cx="533.3" cy="607.9" r="4.2" fill="rgba(65,105,176,0.5)" stroke="rgba(0,0,0,0.62)" stroke-width="1.3"/>
<circle cx="532.1" cy="609.1" r="4.2" fill="rgba(65,105,176,0.5)" stroke="rgba(0,0,0,0.62)" stroke-width="1.3"/>
<circle cx="503" cy="619.4" r="4.2" fill="rgba(65,105,176,0.5)" stroke="rgba(0,0,0,0.62)" stroke-width="1.3"/>
<circle cx="508.5" cy="621.2" r="4.2" fill="rgba(65,105,176,0.5)" stroke="rgba(0,0,0,0.62)" stroke-width="1.3"/>
<circle cx="510.3" cy="615.8" r="4.2" fill="rgba(65,105,176,0.5)" stroke="rgba(0,0,0,0.62)" stroke-width="1.3"/>
<circle cx="527.3" cy="624.2" r="4.2" fill="rgba(65,105,176,0.5)" stroke="rgba(0,0,0,0.62)" stroke-width="1.3"/>
<circle cx="534.3" cy="621.8" r="4.2" fill="rgba(65,105,176,0.5)" stroke="rgba(0,0,0,0.62)" stroke-width="1.3"/>
<circle cx="490.3" cy="631.8" r="4.2" fill="rgba(65,105,176,0.5)" stroke="rgba(0,0,0,0.62)" stroke-width="1.3"/>
<circle cx="493.3" cy="636.4" r="4.2" fill="rgba(65,105,176,0.5)" stroke="rgba(0,0,0,0.62)" stroke-width="1.3"/>
<circle cx="524.8" cy="640" r="4.2" fill="rgba(65,105,176,0.5)" stroke="rgba(0,0,0,0.62)" stroke-width="1.3"/>
<circle cx="523" cy="642.4" r="4.2" fill="rgba(65,105,176,0.5)" stroke="rgba(0,0,0,0.62)" stroke-width="1.3"/>
<circle cx="520" cy="646.1" r="4.2" fill="rgba(65,105,176,0.5)" stroke="rgba(0,0,0,0.62)" stroke-width="1.3"/>
<circle cx="527.9" cy="647.3" r="4.2" fill="rgba(65,105,176,0.5)" stroke="rgba(0,0,0,0.62)" stroke-width="1.3"/>
<circle cx="533.3" cy="650.3" r="4.2" fill="rgba(65,105,176,0.5)" stroke="rgba(0,0,0,0.62)" stroke-width="1.3"/>
<circle cx="532.1" cy="653.3" r="4.2" fill="rgba(65,105,176,0.5)" stroke="rgba(0,0,0,0.62)" stroke-width="1.3"/>
<circle cx="489.5" cy="644.8" r="4.2" fill="rgba(65,105,176,0.5)" stroke="rgba(0,0,0,0.62)" stroke-width="1.3"/>
<circle cx="489.9" cy="649.9" r="4.2" fill="rgba(65,105,176,0.5)" stroke="rgba(0,0,0,0.62)" stroke-width="1.3"/>
<circle cx="497.9" cy="657.6" r="4.2" fill="rgba(65,105,176,0.5)" stroke="rgba(0,0,0,0.62)" stroke-width="1.3"/>
<circle cx="504.8" cy="658.2" r="4.2" fill="rgba(65,105,176,0.5)" stroke="rgba(0,0,0,0.62)" stroke-width="1.3"/>
<circle cx="524.2" cy="657" r="4.2" fill="rgba(65,105,176,0.5)" stroke="rgba(0,0,0,0.62)" stroke-width="1.3"/>
<circle cx="520.8" cy="662.3" r="4.2" fill="rgba(65,105,176,0.5)" stroke="rgba(0,0,0,0.62)" stroke-width="1.3"/>
<circle cx="507.6" cy="668" r="4.2" fill="rgba(65,105,176,0.5)" stroke="rgba(0,0,0,0.62)" stroke-width="1.3"/>
<circle cx="504.2" cy="674.5" r="4.2" fill="rgba(65,105,176,0.5)" stroke="rgba(0,0,0,0.62)" stroke-width="1.3"/>
<circle cx="526.7" cy="675.3" r="4.2" fill="rgba(65,105,176,0.5)" stroke="rgba(0,0,0,0.62)" stroke-width="1.3"/>
<circle cx="490.3" cy="697.3" r="4.2" fill="rgba(65,105,176,0.5)" stroke="rgba(0,0,0,0.62)" stroke-width="1.3"/>
<circle cx="532.7" cy="698.8" r="4.2" fill="rgba(65,105,176,0.5)" stroke="rgba(0,0,0,0.62)" stroke-width="1.3"/>
<circle cx="517.3" cy="708.2" r="4.2" fill="rgba(65,105,176,0.5)" stroke="rgba(0,0,0,0.62)" stroke-width="1.3"/>
<line x1="75" y1="608.0" x2="576" y2="608.0" stroke="rgba(0,0,0,0.25)" stroke-width="2"/>
<rect x="122.2" y="620.5" width="23.2" height="6.4" fill="#b22020"/>
<rect x="122.2" y="645.7" width="23.2" height="6.4" fill="#b22020"/>
<rect x="130.7" y="623.7" width="6.4" height="25.2" fill="#b22020"/>
<rect x="192.8" y="596.1" width="23.2" height="6.4" fill="#4668a8"/>
<rect x="192.8" y="622.4" width="23.2" height="6.4" fill="#4668a8"/>
<rect x="201.3" y="599.4" width="6.4" height="26.3" fill="#4668a8"/>
<rect x="278.7" y="604.3" width="23.2" height="6.4" fill="#b22020"/>
<rect x="278.7" y="625.3" width="23.2" height="6.4" fill="#b22020"/>
<rect x="287.2" y="607.5" width="6.4" height="21.0" fill="#b22020"/>
<rect x="349.3" y="580.1" width="23.2" height="6.4" fill="#4668a8"/>
<rect x="349.3" y="610.7" width="23.2" height="6.4" fill="#4668a8"/>
<rect x="357.8" y="583.3" width="6.4" height="30.6" fill="#4668a8"/>
<rect x="435.3" y="609.8" width="23.2" height="6.4" fill="#b22020"/>
<rect x="435.3" y="631.8" width="23.2" height="6.4" fill="#b22020"/>
<rect x="443.8" y="613.0" width="6.4" height="22.0" fill="#b22020"/>
<rect x="505.9" y="607.2" width="23.2" height="6.4" fill="#4668a8"/>
<rect x="505.9" y="628.2" width="23.2" height="6.4" fill="#4668a8"/>
<rect x="514.4" y="610.4" width="6.4" height="21.0" fill="#4668a8"/>
<path d="M38.7,502.70 L40.9,502.70 L40.9,485.90 L40.1,485.90 L34.8,488.50 L35.3,490.30 L38.7,488.60 Z" fill="#4d4d4d"/>
<text transform="translate(45.50,502.70) scale(0.8236,1)" font-size="23.2" fill="#4d4d4d" stroke="#4d4d4d" stroke-width="0.35">0</text>
<text transform="translate(57.90,502.70) scale(0.8236,1)" font-size="23.2" fill="#4d4d4d" stroke="#4d4d4d" stroke-width="0.35">0</text>
<text transform="translate(44.99,559.85) scale(0.9066,1)" font-size="23.2" fill="#4d4d4d" stroke="#4d4d4d" stroke-width="0.35">7</text>
<text transform="translate(58.26,559.85) scale(0.7955,1)" font-size="23.2" fill="#4d4d4d" stroke="#4d4d4d" stroke-width="0.35">5</text>
<text transform="translate(46.16,617.00) scale(0.7955,1)" font-size="23.2" fill="#4d4d4d" stroke="#4d4d4d" stroke-width="0.35">5</text>
<text transform="translate(57.91,617.00) scale(0.8149,1)" font-size="23.2" fill="#4d4d4d" stroke="#4d4d4d" stroke-width="0.35">0</text>
<text transform="translate(45.20,674.10) scale(0.9059,1)" font-size="23.2" fill="#4d4d4d" stroke="#4d4d4d" stroke-width="0.35">2</text>
<text transform="translate(58.26,674.10) scale(0.7955,1)" font-size="23.2" fill="#4d4d4d" stroke="#4d4d4d" stroke-width="0.35">5</text>
<text transform="translate(57.71,731.25) scale(0.8149,1)" font-size="23.2" fill="#4d4d4d" stroke="#4d4d4d" stroke-width="0.35">0</text>
<rect x="74" y="171.7" width="2" height="250.5" fill="#000"/>
<rect x="74" y="482.5" width="2" height="251.8" fill="#000"/>
<rect x="74" y="732.3" width="502.2" height="2.2" fill="#000"/>
<text id="simple" x="135.91" y="756.60" font-size="24.5" fill="#4d4d4d" textLength="65.07" lengthAdjust="spacingAndGlyphs" stroke="#4d4d4d" stroke-width="0.35">Simple</text>
<text id="novel" x="298.03" y="756.60" font-size="24.5" fill="#4d4d4d" textLength="54.40" lengthAdjust="spacingAndGlyphs" stroke="#4d4d4d" stroke-width="0.35">Novel</text>
<text id="complex" x="440.44" y="756.60" font-size="24.5" fill="#4d4d4d" textLength="82.45" lengthAdjust="spacingAndGlyphs" stroke="#4d4d4d" stroke-width="0.35">Complex</text>
<text id="situation" x="473.32" y="819.80" font-size="29.5" fill="#000" textLength="102.71" lengthAdjust="spacingAndGlyphs" stroke="#000" stroke-width="0.35">Situation</text>
<text id="attrib" transform="translate(21.90,293.45) rotate(-90)" font-size="29.5" fill="#000" textLength="121.12" lengthAdjust="spacingAndGlyphs" stroke="#000" stroke-width="0.35">Attribution</text>
<text id="diff" transform="translate(588.20,181.84) rotate(90)" font-size="29.5" fill="#000" textLength="101.91" lengthAdjust="spacingAndGlyphs" stroke="#000" stroke-width="0.35">Difficulty</text>
<text id="nov" transform="translate(588.30,492.82) rotate(90)" font-size="29.5" fill="#000" textLength="85.06" lengthAdjust="spacingAndGlyphs" stroke="#000" stroke-width="0.35">Novelty</text>
</svg></body></html>
